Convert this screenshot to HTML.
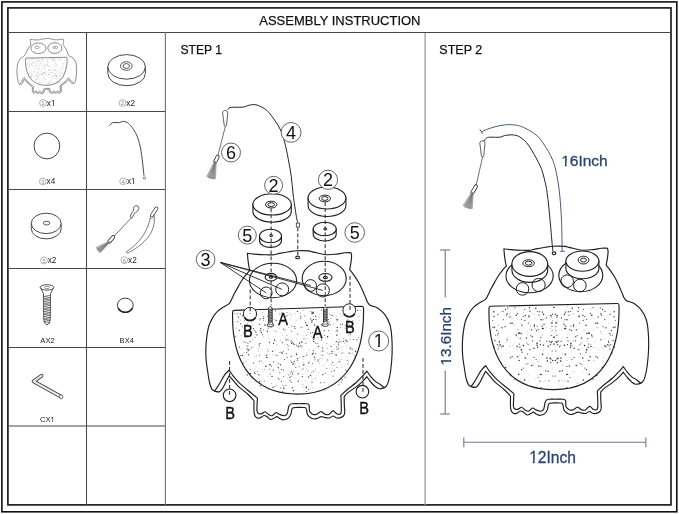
<!DOCTYPE html>
<html><head><meta charset="utf-8">
<style>
html,body{margin:0;padding:0;background:#fff;}
body{width:679px;height:514px;overflow:hidden;position:relative;}
svg{position:absolute;left:0;top:0;will-change:transform;}
text{font-family:"Liberation Sans",sans-serif;}
</style></head><body>
<svg width="679" height="514" viewBox="0 0 679 514">
<rect x="1.9" y="1.9" width="674.9" height="509.9" fill="none" stroke="#111" stroke-width="1.6"/>
<rect x="7.9" y="7.9" width="663.1" height="497" fill="none" stroke="#111" stroke-width="1.6"/>
<g stroke="#484848" stroke-width="1.05" fill="none">
<line x1="8" y1="32.5" x2="671" y2="32.5"/>
<line x1="86.5" y1="32" x2="86.5" y2="505"/>
<line x1="8" y1="111.5" x2="165" y2="111.5"/>
<line x1="8" y1="189.5" x2="165" y2="189.5"/>
<line x1="8" y1="268.5" x2="165" y2="268.5"/>
<line x1="8" y1="347.5" x2="165" y2="347.5"/>
<line x1="8" y1="426" x2="165" y2="426"/>
</g>
<g stroke="#707070" stroke-width="1.1" fill="none">
<line x1="165.4" y1="32" x2="165.4" y2="505"/>
</g>
<g stroke="#9c9c9c" stroke-width="1.3" fill="none">
<line x1="425.1" y1="33" x2="425.1" y2="505"/>

</g>
<text x="259.3" y="24.7" font-size="13.3" textLength="161.2" lengthAdjust="spacingAndGlyphs" fill="#111" stroke="#111" stroke-width="0.25">ASSEMBLY INSTRUCTION</text>
<text x="180.4" y="54.2" font-size="13" textLength="41.6" lengthAdjust="spacingAndGlyphs" fill="#111" stroke="#111" stroke-width="0.25">STEP 1</text>
<text x="439.3" y="54.2" font-size="13" textLength="43" lengthAdjust="spacingAndGlyphs" fill="#111" stroke="#111" stroke-width="0.25">STEP 2</text>
<g transform="translate(-131,-41.7) scale(0.32,0.326)"><path d="M471,386.6 C470.57,386.27 469.23,386.03 468.4,384.6 C467.57,383.17 466.7,380.93 466,378 C465.3,375.07 464.77,370.83 464.2,367 C463.63,363.17 462.87,359.63 462.6,355 C462.33,350.37 462.17,344.7 462.6,339.2 C463.03,333.7 464.03,326.45 465.2,322 C466.37,317.55 468.1,315.07 469.6,312.5 C471.1,309.93 472.47,308.25 474.2,306.6 C475.93,304.95 478.13,303.8 480,302.6 C481.87,301.4 484.1,300.57 485.4,299.4 C486.7,298.23 486.93,297.23 487.8,295.6 C488.67,293.97 489.4,291.93 490.6,289.6 C491.8,287.27 493.58,284.07 495,281.6 C496.42,279.13 497.73,276.85 499.1,274.8 C500.47,272.75 501.98,270.77 503.2,269.3 C504.42,267.83 505.87,266.55 506.4,266 C506.27,265.5 505.92,264.72 505.6,263 C505.28,261.28 504.78,258.05 504.5,255.7 C504.22,253.35 504,250.03 503.9,248.9 C504.97,249.02 507.25,249.37 510.3,249.6 C513.35,249.83 518.85,250.2 522.2,250.3 C525.55,250.4 528.1,250.43 530.4,250.2 C532.7,249.97 533.5,249.4 536,248.9 C538.5,248.4 542.47,247.63 545.4,247.2 C548.33,246.77 550.33,246.43 553.6,246.3 C556.87,246.17 562.27,246.18 565,246.4 C567.73,246.62 567.13,246.97 570,247.6 C572.87,248.23 578.35,249.87 582.2,250.2 C586.05,250.53 589.92,249.92 593.1,249.6 C596.28,249.28 598.92,248.53 601.3,248.3 C603.68,248.07 606.38,248.22 607.4,248.2 C607.52,248.77 608.1,249.9 608.1,251.6 C608.1,253.3 607.73,256.13 607.4,258.4 C607.07,260.67 606.32,264.07 606.1,265.2 C606.67,265.88 608.03,267.25 609.5,269.3 C610.97,271.35 613.32,274.77 614.9,277.5 C616.48,280.23 617.75,282.98 619,285.7 C620.25,288.42 621.53,291.75 622.4,293.8 C623.27,295.85 623.43,296.8 624.2,298 C624.97,299.2 625.42,300.13 627,301 C628.58,301.87 631.33,301.73 633.7,303.2 C636.07,304.67 639.12,307.08 641.2,309.8 C643.28,312.52 645.03,315.85 646.2,319.5 C647.37,323.15 647.8,326.78 648.2,331.7 C648.6,336.62 648.78,343.2 648.6,349 C648.42,354.8 647.72,361.82 647.1,366.5 C646.48,371.18 645.57,374.67 644.9,377.1 C644.23,379.53 643.77,380.05 643.1,381.1 C642.43,382.15 641.27,383.02 640.9,383.4 C640.02,383.53 637.07,384.37 635.6,384.2 C634.13,384.03 633.42,383.43 632.1,382.4 C630.78,381.37 629.17,379.7 627.7,378 C626.23,376.3 624.03,373.17 623.3,372.2 C622.57,373.02 620.67,375.4 618.9,377.1 C617.13,378.8 615.22,380.48 612.7,382.4 C610.18,384.32 605.8,386.95 603.8,388.6 C601.8,390.25 601.22,391.68 600.7,392.3 C600.72,393.58 600.72,397.35 600.8,400 C600.88,402.65 601.35,406.28 601.2,408.2 C601.05,410.12 600.73,410.63 599.9,411.5 C599.07,412.37 597.42,413.1 596.2,413.4 C594.98,413.7 593.7,413.62 592.6,413.3 C591.5,412.98 590.72,411.48 589.6,411.5 C588.48,411.52 587.25,413.13 585.9,413.4 C584.55,413.67 582.85,413.32 581.5,413.1 C580.15,412.88 579.03,412 577.8,412.1 C576.57,412.2 575.32,413.3 574.1,413.7 C572.88,414.1 571.72,414.62 570.5,414.5 C569.28,414.38 567.88,413.75 566.8,413 C565.72,412.25 564.6,411.13 564,410 C563.4,408.87 563.5,407.3 563.2,406.2 C562.9,405.1 562.73,403.93 562.2,403.4 C561.67,402.87 561.2,403.08 560,403 C558.8,402.92 556.68,402.87 555,402.9 C553.32,402.93 551,402.87 549.9,403.2 C548.8,403.53 548.83,403.78 548.4,404.9 C547.97,406.02 547.9,408.45 547.3,409.9 C546.7,411.35 545.97,412.7 544.8,413.6 C543.63,414.5 541.65,415.18 540.3,415.3 C538.95,415.42 537.87,414.83 536.7,414.3 C535.53,413.77 534.28,412.22 533.3,412.1 C532.32,411.98 531.83,413.12 530.8,413.6 C529.77,414.08 528.33,415.25 527.1,415 C525.87,414.75 524.5,412.77 523.4,412.1 C522.3,411.43 521.73,410.75 520.5,411 C519.27,411.25 517.35,413.33 516,413.6 C514.65,413.87 513.3,413.47 512.4,412.6 C511.5,411.73 510.92,411.12 510.6,408.4 C510.28,405.68 510.52,398.32 510.5,396.3 C509.45,395.17 506.73,391.82 504.2,389.5 C501.67,387.18 497.8,384.77 495.3,382.4 C492.8,380.03 490.82,377.15 489.2,375.3 C487.58,373.45 486.2,371.97 485.6,371.3 C485.17,372.12 484.03,374.2 483,376.2 C481.97,378.2 480.58,381.47 479.4,383.3 C478.22,385.13 477.3,386.65 475.9,387.2 C474.5,387.75 471.82,386.7 471,386.6 Z" fill="#fff" stroke="#777" stroke-width="2.6" stroke-linejoin="round"/><path d="M471,386.6 C471.58,385.77 473.38,383.33 474.5,381.6 C475.62,379.87 476.58,378.08 477.7,376.2 C478.82,374.32 479.88,372.07 481.2,370.3 C482.52,368.53 484.87,366.38 485.6,365.6 C486.33,366.63 488.08,369.45 490,371.8 C491.92,374.15 494.3,377.05 497.1,379.7 C499.9,382.35 504,385.38 506.8,387.7 C509.6,390.02 512.72,392.62 513.9,393.6 C513.87,394.23 513.77,395.27 513.7,397.4 C513.63,399.53 513.23,404.43 513.5,406.4 C513.77,408.37 514.5,408.75 515.3,409.2 C516.1,409.65 517.25,409.42 518.3,409.1 C519.35,408.78 520.5,407.17 521.6,407.3 C522.7,407.43 523.73,409.25 524.9,409.9 C526.07,410.55 527.32,411.52 528.6,411.2 C529.88,410.88 531.38,408.22 532.6,408 C533.82,407.78 534.5,409.37 535.9,409.9 C537.3,410.43 539.7,411.33 541,411.2 C542.3,411.07 543.02,410.55 543.7,409.1 C544.38,407.65 544.55,404.08 545.1,402.5 C545.65,400.92 546.25,400.15 547,399.6 C547.75,399.05 548.27,399.27 549.6,399.2 C550.93,399.13 552.67,399.18 555,399.2 C557.33,399.22 561.83,399.03 563.6,399.3 C565.37,399.57 565.23,399.87 565.6,400.8 C565.97,401.73 565.67,403.82 565.8,404.9 C565.93,405.98 565.75,406.45 566.4,407.3 C567.05,408.15 568.53,409.6 569.7,410 C570.87,410.4 572.1,410.18 573.4,409.7 C574.7,409.22 576.15,407.1 577.5,407.1 C578.85,407.1 580.22,409.22 581.5,409.7 C582.78,410.18 583.85,410.55 585.2,410 C586.55,409.45 588.25,406.52 589.6,406.4 C590.95,406.28 592.2,408.73 593.3,409.3 C594.4,409.87 595.47,410.08 596.2,409.8 C596.93,409.52 597.45,409.52 597.7,407.6 C597.95,405.68 597.77,401.07 597.7,398.3 C597.63,395.53 597.37,392.22 597.3,391 C598.38,390 601.23,387.17 603.8,385 C606.37,382.83 610.05,380.35 612.7,378 C615.35,375.65 617.93,372.82 619.7,370.9 C621.47,368.98 622.7,367.23 623.3,366.5 C624.03,367.53 626.23,370.93 627.7,372.7 C629.17,374.47 630.63,375.93 632.1,377.1 C633.57,378.27 635.03,378.65 636.5,379.7 C637.97,380.75 640.17,382.78 640.9,383.4" fill="none" stroke="#777" stroke-width="2.6" stroke-linejoin="round"/><path d="M489,308.0 Q489,306.2 490.8,306.2 L617.2,303.5 Q619,303.5 619,305.3 C620.2,350.5 603,389.6 554,389.6 C505,389.6 487.8,353.2 489,308.0 Z" fill="#fff" stroke="#777" stroke-width="2.6"/><g fill="#666"><circle cx="522.7" cy="362.9" r="1.44" fill-opacity="0.2"/><circle cx="573.8" cy="361.3" r="1.53" fill-opacity="0.4"/><circle cx="584.4" cy="315.2" r="1.37" fill-opacity="0.2"/><circle cx="585.8" cy="306.6" r="1.16" fill-opacity="0.4"/><circle cx="524.9" cy="316.6" r="1.54" fill-opacity="0.3"/><circle cx="596.4" cy="368.0" r="1.57" fill-opacity="0.3"/><circle cx="535.2" cy="324.1" r="1.55" fill-opacity="0.4"/><circle cx="562.3" cy="340.9" r="1.28" fill-opacity="0.3"/><circle cx="572.0" cy="360.4" r="1.27" fill-opacity="0.4"/><circle cx="578.8" cy="351.7" r="1.47" fill-opacity="0.2"/><circle cx="546.2" cy="366.7" r="1.37" fill-opacity="0.3"/><circle cx="515.3" cy="349.0" r="1.23" fill-opacity="0.3"/><circle cx="523.0" cy="328.1" r="1.54" fill-opacity="0.4"/><circle cx="552.8" cy="324.2" r="1.22" fill-opacity="0.2"/><circle cx="580.2" cy="315.3" r="1.32" fill-opacity="0.4"/><circle cx="613.0" cy="337.5" r="1.46" fill-opacity="0.2"/><circle cx="518.2" cy="346.8" r="1.45" fill-opacity="0.3"/><circle cx="572.1" cy="317.7" r="1.31" fill-opacity="0.3"/><circle cx="515.4" cy="377.4" r="1.29" fill-opacity="0.4"/><circle cx="574.4" cy="381.5" r="1.45" fill-opacity="0.2"/><circle cx="583.0" cy="322.2" r="1.41" fill-opacity="0.4"/><circle cx="580.2" cy="307.3" r="1.39" fill-opacity="0.4"/><circle cx="533.4" cy="329.4" r="1.18" fill-opacity="0.4"/><circle cx="561.2" cy="381.5" r="1.18" fill-opacity="0.3"/><circle cx="572.7" cy="351.8" r="1.37" fill-opacity="0.2"/><circle cx="572.9" cy="349.3" r="1.16" fill-opacity="0.3"/><circle cx="504.8" cy="329.9" r="1.23" fill-opacity="0.4"/><circle cx="579.9" cy="384.7" r="1.36" fill-opacity="0.2"/><circle cx="553.6" cy="387.4" r="1.36" fill-opacity="0.3"/><circle cx="518.0" cy="321.8" r="1.50" fill-opacity="0.3"/><circle cx="554.2" cy="382.3" r="1.47" fill-opacity="0.3"/><circle cx="544.3" cy="374.9" r="1.21" fill-opacity="0.3"/><circle cx="565.4" cy="334.6" r="1.22" fill-opacity="0.3"/><circle cx="544.6" cy="359.1" r="1.31" fill-opacity="0.3"/><circle cx="540.7" cy="311.5" r="1.48" fill-opacity="0.4"/><circle cx="608.8" cy="360.2" r="1.25" fill-opacity="0.3"/><circle cx="551.5" cy="351.7" r="1.27" fill-opacity="0.3"/><circle cx="557.6" cy="385.8" r="1.17" fill-opacity="0.2"/><circle cx="517.4" cy="330.1" r="1.29" fill-opacity="0.2"/><circle cx="534.2" cy="312.6" r="1.35" fill-opacity="0.4"/><circle cx="494.7" cy="350.0" r="1.16" fill-opacity="0.2"/><circle cx="531.0" cy="380.8" r="1.37" fill-opacity="0.2"/><circle cx="607.6" cy="362.6" r="1.14" fill-opacity="0.3"/><circle cx="498.1" cy="326.7" r="1.51" fill-opacity="0.2"/><circle cx="582.4" cy="361.3" r="1.57" fill-opacity="0.4"/><circle cx="591.2" cy="369.7" r="1.20" fill-opacity="0.3"/><circle cx="569.7" cy="376.2" r="1.55" fill-opacity="0.2"/><circle cx="568.7" cy="385.1" r="1.48" fill-opacity="0.3"/><circle cx="558.4" cy="329.8" r="1.58" fill-opacity="0.3"/><circle cx="522.9" cy="336.1" r="1.57" fill-opacity="0.2"/><circle cx="583.5" cy="313.2" r="1.46" fill-opacity="0.2"/><circle cx="544.2" cy="357.5" r="1.52" fill-opacity="0.4"/><circle cx="580.1" cy="383.0" r="1.12" fill-opacity="0.2"/><circle cx="550.3" cy="327.0" r="1.49" fill-opacity="0.3"/><circle cx="528.1" cy="349.3" r="1.37" fill-opacity="0.3"/><circle cx="532.2" cy="384.6" r="1.22" fill-opacity="0.3"/><circle cx="588.0" cy="345.6" r="1.23" fill-opacity="0.3"/><circle cx="564.2" cy="386.4" r="1.33" fill-opacity="0.3"/><circle cx="581.8" cy="375.5" r="1.11" fill-opacity="0.2"/><circle cx="551.7" cy="347.1" r="1.16" fill-opacity="0.2"/><circle cx="565.6" cy="330.4" r="1.54" fill-opacity="0.3"/><circle cx="563.3" cy="366.3" r="1.13" fill-opacity="0.4"/><circle cx="585.9" cy="359.8" r="1.31" fill-opacity="0.4"/><circle cx="509.0" cy="308.6" r="1.35" fill-opacity="0.3"/><circle cx="501.2" cy="331.2" r="1.35" fill-opacity="0.4"/><circle cx="547.4" cy="369.3" r="1.27" fill-opacity="0.2"/><circle cx="568.1" cy="349.1" r="1.60" fill-opacity="0.2"/><circle cx="597.1" cy="362.6" r="1.46" fill-opacity="0.4"/><circle cx="525.9" cy="312.0" r="1.46" fill-opacity="0.2"/><circle cx="583.4" cy="355.3" r="1.13" fill-opacity="0.4"/><circle cx="507.4" cy="367.2" r="1.11" fill-opacity="0.3"/><circle cx="602.9" cy="336.8" r="1.51" fill-opacity="0.3"/><circle cx="593.6" cy="348.1" r="1.13" fill-opacity="0.3"/><circle cx="557.5" cy="328.1" r="1.29" fill-opacity="0.2"/><circle cx="607.6" cy="362.8" r="1.29" fill-opacity="0.2"/><circle cx="588.5" cy="384.1" r="1.25" fill-opacity="0.2"/><circle cx="542.4" cy="352.5" r="1.47" fill-opacity="0.2"/><circle cx="598.2" cy="349.7" r="1.32" fill-opacity="0.4"/><circle cx="527.3" cy="321.5" r="1.59" fill-opacity="0.2"/><circle cx="586.5" cy="360.4" r="1.58" fill-opacity="0.4"/><circle cx="539.3" cy="322.3" r="1.18" fill-opacity="0.2"/><circle cx="509.8" cy="319.9" r="1.13" fill-opacity="0.3"/><circle cx="562.5" cy="380.0" r="1.43" fill-opacity="0.4"/><circle cx="542.2" cy="310.9" r="1.34" fill-opacity="0.4"/><circle cx="509.2" cy="308.6" r="1.41" fill-opacity="0.4"/><circle cx="595.6" cy="371.0" r="1.47" fill-opacity="0.2"/><circle cx="580.8" cy="340.7" r="1.31" fill-opacity="0.2"/><circle cx="523.1" cy="373.3" r="1.46" fill-opacity="0.3"/><circle cx="606.9" cy="328.1" r="1.46" fill-opacity="0.2"/><circle cx="598.1" cy="311.3" r="1.12" fill-opacity="0.2"/><circle cx="614.5" cy="325.9" r="1.50" fill-opacity="0.2"/><circle cx="570.2" cy="312.6" r="1.35" fill-opacity="0.4"/><circle cx="502.6" cy="364.6" r="1.39" fill-opacity="0.3"/><circle cx="506.8" cy="345.1" r="1.34" fill-opacity="0.3"/><circle cx="505.2" cy="365.3" r="1.34" fill-opacity="0.4"/><circle cx="595.4" cy="342.5" r="1.31" fill-opacity="0.2"/><circle cx="580.8" cy="358.4" r="1.17" fill-opacity="0.3"/><circle cx="586.7" cy="368.2" r="1.15" fill-opacity="0.4"/><circle cx="509.8" cy="318.6" r="1.31" fill-opacity="0.2"/><circle cx="592.8" cy="355.5" r="1.48" fill-opacity="0.3"/><circle cx="542.3" cy="321.9" r="1.18" fill-opacity="0.3"/><circle cx="593.0" cy="338.2" r="1.30" fill-opacity="0.3"/><circle cx="541.0" cy="310.9" r="1.22" fill-opacity="0.2"/><circle cx="597.4" cy="355.1" r="1.38" fill-opacity="0.3"/><circle cx="546.3" cy="350.1" r="1.48" fill-opacity="0.4"/><circle cx="547.8" cy="316.3" r="1.49" fill-opacity="0.2"/><circle cx="561.2" cy="320.2" r="1.22" fill-opacity="0.3"/><circle cx="494.8" cy="327.5" r="1.31" fill-opacity="0.3"/><circle cx="541.0" cy="357.0" r="1.32" fill-opacity="0.2"/><circle cx="545.1" cy="352.8" r="1.13" fill-opacity="0.3"/><circle cx="517.8" cy="361.0" r="1.20" fill-opacity="0.3"/><circle cx="515.6" cy="307.2" r="1.11" fill-opacity="0.4"/><circle cx="583.1" cy="356.6" r="1.30" fill-opacity="0.4"/><circle cx="565.3" cy="342.5" r="1.57" fill-opacity="0.4"/><circle cx="578.6" cy="305.1" r="1.46" fill-opacity="0.3"/><circle cx="572.1" cy="324.6" r="1.16" fill-opacity="0.3"/><circle cx="580.2" cy="352.2" r="1.20" fill-opacity="0.3"/><circle cx="515.3" cy="366.9" r="1.35" fill-opacity="0.2"/><circle cx="508.2" cy="372.3" r="1.46" fill-opacity="0.2"/><circle cx="512.1" cy="309.7" r="1.18" fill-opacity="0.3"/><circle cx="553.2" cy="355.9" r="1.22" fill-opacity="0.3"/><circle cx="590.5" cy="309.6" r="1.40" fill-opacity="0.3"/><circle cx="557.5" cy="319.4" r="1.38" fill-opacity="0.2"/><circle cx="584.2" cy="336.8" r="1.20" fill-opacity="0.3"/><circle cx="507.6" cy="358.1" r="1.42" fill-opacity="0.2"/><circle cx="564.3" cy="384.6" r="1.45" fill-opacity="0.4"/><circle cx="579.7" cy="347.3" r="1.31" fill-opacity="0.2"/><circle cx="540.9" cy="339.6" r="1.49" fill-opacity="0.3"/><circle cx="547.7" cy="368.6" r="1.15" fill-opacity="0.3"/><circle cx="548.5" cy="365.3" r="1.50" fill-opacity="0.2"/><circle cx="523.3" cy="365.9" r="1.33" fill-opacity="0.2"/><circle cx="561.8" cy="356.1" r="1.56" fill-opacity="0.4"/><circle cx="590.6" cy="353.9" r="1.31" fill-opacity="0.2"/><circle cx="616.9" cy="305.5" r="1.30" fill-opacity="0.2"/><circle cx="546.5" cy="310.1" r="1.55" fill-opacity="0.2"/><circle cx="610.8" cy="311.3" r="1.48" fill-opacity="0.2"/><circle cx="586.0" cy="345.8" r="1.39" fill-opacity="0.4"/><circle cx="581.9" cy="344.1" r="1.46" fill-opacity="0.4"/><circle cx="533.2" cy="367.4" r="1.27" fill-opacity="0.3"/><circle cx="588.3" cy="377.8" r="1.54" fill-opacity="0.4"/><circle cx="516.2" cy="333.3" r="1.16" fill-opacity="0.2"/><circle cx="498.7" cy="354.2" r="1.44" fill-opacity="0.3"/><circle cx="585.8" cy="361.5" r="1.51" fill-opacity="0.3"/><circle cx="514.1" cy="353.7" r="1.29" fill-opacity="0.2"/><circle cx="499.1" cy="342.8" r="1.20" fill-opacity="0.2"/><circle cx="577.8" cy="340.7" r="1.14" fill-opacity="0.4"/><circle cx="528.7" cy="359.2" r="1.40" fill-opacity="0.4"/><circle cx="612.0" cy="305.8" r="1.18" fill-opacity="0.3"/><circle cx="493.9" cy="329.1" r="1.49" fill-opacity="0.3"/><circle cx="577.9" cy="340.3" r="1.28" fill-opacity="0.2"/><circle cx="586.6" cy="370.2" r="1.44" fill-opacity="0.2"/><circle cx="527.9" cy="366.2" r="1.34" fill-opacity="0.2"/><circle cx="496.3" cy="322.9" r="1.28" fill-opacity="0.4"/><circle cx="597.0" cy="376.4" r="1.42" fill-opacity="0.2"/><circle cx="587.3" cy="326.2" r="1.56" fill-opacity="0.4"/><circle cx="584.1" cy="324.8" r="1.15" fill-opacity="0.3"/><circle cx="546.5" cy="329.3" r="1.38" fill-opacity="0.2"/><circle cx="579.1" cy="328.4" r="1.21" fill-opacity="0.3"/><circle cx="502.7" cy="321.8" r="1.27" fill-opacity="0.2"/><circle cx="577.1" cy="387.4" r="1.27" fill-opacity="0.2"/><circle cx="513.7" cy="348.3" r="1.16" fill-opacity="0.4"/><circle cx="531.6" cy="339.4" r="1.44" fill-opacity="0.3"/><circle cx="540.8" cy="335.5" r="1.31" fill-opacity="0.2"/><circle cx="523.0" cy="371.2" r="1.29" fill-opacity="0.4"/><circle cx="497.8" cy="316.5" r="1.52" fill-opacity="0.3"/><circle cx="574.3" cy="365.5" r="1.11" fill-opacity="0.3"/><circle cx="535.2" cy="353.9" r="1.31" fill-opacity="0.4"/><circle cx="539.3" cy="317.5" r="1.43" fill-opacity="0.4"/><circle cx="600.9" cy="312.9" r="1.46" fill-opacity="0.2"/><circle cx="575.9" cy="358.4" r="1.30" fill-opacity="0.4"/><circle cx="556.6" cy="321.7" r="1.38" fill-opacity="0.3"/><circle cx="547.3" cy="341.7" r="1.28" fill-opacity="0.2"/><circle cx="596.1" cy="346.8" r="1.24" fill-opacity="0.2"/><circle cx="537.7" cy="328.7" r="1.27" fill-opacity="0.3"/><circle cx="595.9" cy="307.8" r="1.57" fill-opacity="0.2"/><circle cx="536.5" cy="345.1" r="1.19" fill-opacity="0.3"/><circle cx="549.4" cy="334.2" r="1.31" fill-opacity="0.2"/><circle cx="599.1" cy="304.8" r="1.15" fill-opacity="0.2"/><circle cx="511.3" cy="321.5" r="1.48" fill-opacity="0.2"/><circle cx="614.5" cy="332.5" r="1.37" fill-opacity="0.3"/><circle cx="557.3" cy="314.3" r="1.39" fill-opacity="0.3"/><circle cx="597.1" cy="308.7" r="1.57" fill-opacity="0.2"/><circle cx="605.4" cy="353.0" r="1.23" fill-opacity="0.2"/><circle cx="551.4" cy="355.9" r="1.33" fill-opacity="0.3"/><circle cx="584.1" cy="342.0" r="1.28" fill-opacity="0.2"/><circle cx="567.3" cy="379.1" r="1.36" fill-opacity="0.3"/><circle cx="584.1" cy="377.7" r="1.29" fill-opacity="0.3"/><circle cx="609.0" cy="351.5" r="1.14" fill-opacity="0.2"/><circle cx="596.0" cy="374.4" r="1.37" fill-opacity="0.3"/><circle cx="533.9" cy="356.9" r="1.20" fill-opacity="0.4"/><circle cx="573.4" cy="308.3" r="1.34" fill-opacity="0.4"/><circle cx="604.6" cy="352.8" r="1.10" fill-opacity="0.4"/><circle cx="532.2" cy="379.0" r="1.56" fill-opacity="0.2"/><circle cx="569.3" cy="310.9" r="1.13" fill-opacity="0.4"/><circle cx="520.3" cy="371.5" r="1.20" fill-opacity="0.4"/><circle cx="546.2" cy="315.0" r="1.34" fill-opacity="0.2"/><circle cx="554.8" cy="329.4" r="1.25" fill-opacity="0.4"/><circle cx="594.0" cy="362.7" r="1.58" fill-opacity="0.3"/><circle cx="501.9" cy="337.5" r="1.54" fill-opacity="0.2"/><circle cx="552.2" cy="371.3" r="1.54" fill-opacity="0.4"/><circle cx="512.9" cy="319.8" r="1.12" fill-opacity="0.3"/><circle cx="559.9" cy="306.3" r="1.24" fill-opacity="0.2"/><circle cx="525.1" cy="358.5" r="1.41" fill-opacity="0.3"/><circle cx="518.5" cy="328.3" r="1.21" fill-opacity="0.3"/><circle cx="499.0" cy="319.1" r="1.12" fill-opacity="0.4"/><circle cx="569.4" cy="386.3" r="1.33" fill-opacity="0.3"/><circle cx="494.9" cy="308.9" r="1.44" fill-opacity="0.2"/><circle cx="577.3" cy="382.2" r="1.15" fill-opacity="0.4"/><circle cx="606.2" cy="357.0" r="1.27" fill-opacity="0.3"/><circle cx="610.0" cy="306.2" r="1.39" fill-opacity="0.3"/><circle cx="605.3" cy="329.0" r="1.24" fill-opacity="0.3"/><circle cx="534.4" cy="343.9" r="1.30" fill-opacity="0.2"/><circle cx="520.3" cy="348.5" r="1.31" fill-opacity="0.4"/><circle cx="568.6" cy="307.9" r="1.17" fill-opacity="0.4"/><circle cx="533.1" cy="312.8" r="1.38" fill-opacity="0.4"/><circle cx="581.4" cy="342.7" r="1.27" fill-opacity="0.4"/><circle cx="536.3" cy="321.9" r="1.39" fill-opacity="0.4"/><circle cx="543.5" cy="329.5" r="1.18" fill-opacity="0.4"/><circle cx="565.1" cy="365.1" r="1.26" fill-opacity="0.2"/><circle cx="503.4" cy="313.8" r="1.46" fill-opacity="0.3"/><circle cx="578.8" cy="361.9" r="1.53" fill-opacity="0.3"/><circle cx="509.5" cy="353.7" r="1.45" fill-opacity="0.2"/><circle cx="578.7" cy="349.1" r="1.49" fill-opacity="0.2"/><circle cx="495.0" cy="322.9" r="1.33" fill-opacity="0.4"/><circle cx="583.2" cy="368.9" r="1.24" fill-opacity="0.4"/><circle cx="527.2" cy="361.6" r="1.13" fill-opacity="0.3"/><circle cx="524.4" cy="313.7" r="1.28" fill-opacity="0.3"/><circle cx="573.2" cy="342.8" r="1.26" fill-opacity="0.2"/><circle cx="532.1" cy="363.8" r="1.21" fill-opacity="0.3"/><circle cx="586.9" cy="331.0" r="1.19" fill-opacity="0.4"/><circle cx="533.4" cy="379.5" r="1.12" fill-opacity="0.3"/><circle cx="540.0" cy="336.1" r="1.45" fill-opacity="0.3"/><circle cx="562.6" cy="355.1" r="1.55" fill-opacity="0.3"/><circle cx="501.4" cy="351.4" r="1.35" fill-opacity="0.2"/><circle cx="519.4" cy="307.8" r="1.58" fill-opacity="0.3"/><circle cx="559.5" cy="314.4" r="1.53" fill-opacity="0.2"/><circle cx="533.4" cy="358.0" r="1.12" fill-opacity="0.4"/><circle cx="529.1" cy="332.8" r="1.16" fill-opacity="0.4"/><circle cx="524.2" cy="354.7" r="1.52" fill-opacity="0.4"/><circle cx="561.6" cy="380.5" r="1.21" fill-opacity="0.2"/><circle cx="604.6" cy="366.8" r="1.55" fill-opacity="0.3"/><circle cx="554.3" cy="352.3" r="1.35" fill-opacity="0.3"/><circle cx="522.9" cy="357.1" r="1.28" fill-opacity="0.3"/><circle cx="521.4" cy="362.0" r="1.16" fill-opacity="0.2"/><circle cx="558.1" cy="382.1" r="1.54" fill-opacity="0.2"/><circle cx="526.0" cy="314.1" r="1.19" fill-opacity="0.3"/><circle cx="507.7" cy="362.1" r="1.57" fill-opacity="0.4"/><circle cx="500.8" cy="366.0" r="1.50" fill-opacity="0.3"/><circle cx="615.6" cy="322.6" r="1.38" fill-opacity="0.3"/><circle cx="510.0" cy="308.2" r="1.28" fill-opacity="0.4"/><circle cx="506.0" cy="342.5" r="1.43" fill-opacity="0.2"/><circle cx="521.9" cy="335.9" r="1.34" fill-opacity="0.3"/><circle cx="508.4" cy="359.6" r="1.35" fill-opacity="0.2"/><circle cx="588.4" cy="361.1" r="1.42" fill-opacity="0.4"/><circle cx="602.1" cy="342.8" r="1.44" fill-opacity="0.3"/><circle cx="572.1" cy="335.1" r="1.13" fill-opacity="0.3"/><circle cx="614.1" cy="345.7" r="1.47" fill-opacity="0.4"/><circle cx="491.1" cy="325.7" r="1.34" fill-opacity="0.3"/><circle cx="549.2" cy="329.5" r="1.49" fill-opacity="0.4"/><circle cx="584.2" cy="328.4" r="1.18" fill-opacity="0.4"/><circle cx="607.2" cy="323.5" r="1.54" fill-opacity="0.2"/><circle cx="535.8" cy="384.2" r="1.16" fill-opacity="0.2"/><circle cx="580.2" cy="313.9" r="1.24" fill-opacity="0.4"/><circle cx="598.6" cy="354.8" r="1.25" fill-opacity="0.3"/><circle cx="538.5" cy="365.3" r="1.25" fill-opacity="0.2"/><circle cx="503.7" cy="310.5" r="1.11" fill-opacity="0.4"/><circle cx="505.1" cy="321.8" r="1.36" fill-opacity="0.3"/><circle cx="508.1" cy="325.3" r="1.52" fill-opacity="0.2"/><circle cx="551.1" cy="337.0" r="1.28" fill-opacity="0.3"/><circle cx="524.8" cy="349.7" r="1.12" fill-opacity="0.4"/><circle cx="594.6" cy="307.8" r="1.21" fill-opacity="0.3"/><circle cx="562.4" cy="332.3" r="1.34" fill-opacity="0.3"/><circle cx="557.0" cy="387.8" r="1.46" fill-opacity="0.2"/><circle cx="547.6" cy="351.8" r="1.58" fill-opacity="0.2"/><circle cx="507.7" cy="373.6" r="1.25" fill-opacity="0.4"/><circle cx="558.6" cy="310.7" r="1.13" fill-opacity="0.4"/><circle cx="507.5" cy="326.9" r="1.40" fill-opacity="0.4"/><circle cx="529.3" cy="348.7" r="1.47" fill-opacity="0.4"/><circle cx="537.9" cy="372.6" r="1.41" fill-opacity="0.3"/><circle cx="533.8" cy="315.1" r="1.39" fill-opacity="0.3"/><circle cx="537.9" cy="347.9" r="1.29" fill-opacity="0.4"/><circle cx="501.4" cy="328.7" r="1.49" fill-opacity="0.4"/><circle cx="607.8" cy="362.8" r="1.52" fill-opacity="0.2"/><circle cx="566.8" cy="357.6" r="1.19" fill-opacity="0.2"/><circle cx="524.6" cy="318.0" r="1.47" fill-opacity="0.2"/><circle cx="511.2" cy="370.4" r="1.13" fill-opacity="0.2"/><circle cx="540.5" cy="353.1" r="1.43" fill-opacity="0.3"/><circle cx="538.7" cy="379.7" r="1.58" fill-opacity="0.3"/><circle cx="540.1" cy="356.6" r="1.43" fill-opacity="0.3"/><circle cx="534.5" cy="359.1" r="1.45" fill-opacity="0.2"/><circle cx="499.9" cy="362.7" r="1.31" fill-opacity="0.3"/><circle cx="557.8" cy="315.9" r="1.20" fill-opacity="0.3"/><circle cx="601.9" cy="313.7" r="1.52" fill-opacity="0.3"/><circle cx="584.4" cy="322.9" r="1.39" fill-opacity="0.2"/><circle cx="498.4" cy="356.7" r="1.11" fill-opacity="0.2"/><circle cx="564.7" cy="350.6" r="1.18" fill-opacity="0.4"/><circle cx="599.2" cy="337.1" r="1.34" fill-opacity="0.3"/><circle cx="547.4" cy="378.9" r="1.12" fill-opacity="0.4"/><circle cx="546.2" cy="372.7" r="1.39" fill-opacity="0.2"/><circle cx="498.3" cy="307.7" r="1.57" fill-opacity="0.3"/><circle cx="591.6" cy="377.4" r="1.13" fill-opacity="0.4"/><circle cx="532.5" cy="340.7" r="1.50" fill-opacity="0.3"/><circle cx="548.4" cy="348.3" r="1.35" fill-opacity="0.3"/><circle cx="605.1" cy="336.1" r="1.13" fill-opacity="0.3"/><circle cx="520.2" cy="373.8" r="1.26" fill-opacity="0.3"/><circle cx="595.8" cy="362.5" r="1.19" fill-opacity="0.3"/><circle cx="600.3" cy="354.5" r="1.40" fill-opacity="0.2"/><circle cx="610.9" cy="317.4" r="1.27" fill-opacity="0.2"/><circle cx="549.7" cy="327.0" r="1.26" fill-opacity="0.4"/><circle cx="506.8" cy="349.2" r="1.50" fill-opacity="0.3"/><circle cx="586.0" cy="362.8" r="1.39" fill-opacity="0.4"/><circle cx="570.2" cy="349.4" r="1.51" fill-opacity="0.3"/><circle cx="574.8" cy="326.9" r="1.49" fill-opacity="0.4"/><circle cx="584.3" cy="345.0" r="1.51" fill-opacity="0.2"/><circle cx="525.9" cy="310.1" r="1.53" fill-opacity="0.4"/><circle cx="518.1" cy="342.1" r="1.42" fill-opacity="0.3"/><circle cx="584.3" cy="352.0" r="1.20" fill-opacity="0.4"/><circle cx="501.7" cy="325.6" r="1.58" fill-opacity="0.2"/><circle cx="555.6" cy="361.6" r="1.25" fill-opacity="0.4"/><circle cx="593.9" cy="370.3" r="1.27" fill-opacity="0.4"/><circle cx="545.0" cy="365.4" r="1.19" fill-opacity="0.4"/><circle cx="513.2" cy="323.0" r="1.38" fill-opacity="0.4"/><circle cx="572.9" cy="368.4" r="1.38" fill-opacity="0.3"/><circle cx="567.6" cy="306.6" r="1.18" fill-opacity="0.4"/><circle cx="562.1" cy="386.1" r="1.34" fill-opacity="0.4"/><circle cx="566.9" cy="375.3" r="1.41" fill-opacity="0.2"/><circle cx="541.4" cy="306.6" r="1.28" fill-opacity="0.3"/><circle cx="525.3" cy="371.1" r="1.31" fill-opacity="0.2"/><circle cx="516.1" cy="361.0" r="1.15" fill-opacity="0.2"/><circle cx="509.6" cy="360.6" r="1.33" fill-opacity="0.3"/><circle cx="506.3" cy="366.4" r="1.22" fill-opacity="0.3"/><circle cx="524.7" cy="363.6" r="1.45" fill-opacity="0.4"/><circle cx="557.8" cy="314.9" r="1.13" fill-opacity="0.4"/><circle cx="511.2" cy="317.1" r="1.42" fill-opacity="0.3"/><circle cx="502.9" cy="321.8" r="1.45" fill-opacity="0.2"/><circle cx="510.9" cy="328.8" r="1.24" fill-opacity="0.4"/><circle cx="575.6" cy="307.6" r="1.34" fill-opacity="0.3"/><circle cx="550.3" cy="335.2" r="1.40" fill-opacity="0.4"/><circle cx="580.8" cy="386.8" r="1.31" fill-opacity="0.2"/><circle cx="496.8" cy="352.3" r="1.32" fill-opacity="0.3"/><circle cx="612.3" cy="338.4" r="1.17" fill-opacity="0.2"/><circle cx="580.0" cy="318.8" r="1.46" fill-opacity="0.2"/><circle cx="530.2" cy="331.4" r="1.34" fill-opacity="0.4"/><circle cx="551.2" cy="351.4" r="1.21" fill-opacity="0.2"/><circle cx="496.0" cy="341.8" r="1.13" fill-opacity="0.3"/><circle cx="550.4" cy="341.8" r="1.57" fill-opacity="0.2"/><circle cx="590.1" cy="315.0" r="1.58" fill-opacity="0.2"/><circle cx="589.1" cy="333.3" r="1.47" fill-opacity="0.3"/><circle cx="532.6" cy="337.9" r="1.31" fill-opacity="0.2"/><circle cx="548.0" cy="329.1" r="1.31" fill-opacity="0.2"/><circle cx="546.7" cy="351.1" r="1.42" fill-opacity="0.4"/><circle cx="580.5" cy="334.4" r="1.50" fill-opacity="0.4"/><circle cx="546.5" cy="351.1" r="1.18" fill-opacity="0.4"/><circle cx="578.0" cy="310.8" r="1.22" fill-opacity="0.3"/><circle cx="527.9" cy="353.9" r="1.53" fill-opacity="0.3"/><circle cx="558.6" cy="324.4" r="1.44" fill-opacity="0.3"/><circle cx="563.4" cy="342.7" r="1.53" fill-opacity="0.3"/><circle cx="538.9" cy="315.0" r="1.28" fill-opacity="0.3"/><circle cx="595.8" cy="313.6" r="1.39" fill-opacity="0.3"/><circle cx="573.0" cy="310.6" r="1.20" fill-opacity="0.3"/><circle cx="576.6" cy="312.9" r="1.45" fill-opacity="0.4"/><circle cx="524.2" cy="369.3" r="1.34" fill-opacity="0.3"/><circle cx="560.6" cy="355.7" r="1.24" fill-opacity="0.2"/><circle cx="589.7" cy="375.3" r="1.21" fill-opacity="0.4"/><circle cx="529.2" cy="326.0" r="1.10" fill-opacity="0.3"/><circle cx="515.5" cy="361.3" r="1.46" fill-opacity="0.3"/><circle cx="509.2" cy="357.5" r="1.59" fill-opacity="0.2"/><circle cx="543.3" cy="333.6" r="1.32" fill-opacity="0.2"/><circle cx="538.4" cy="385.1" r="1.25" fill-opacity="0.3"/><circle cx="595.7" cy="379.3" r="1.49" fill-opacity="0.4"/><circle cx="509.5" cy="373.7" r="1.47" fill-opacity="0.2"/><circle cx="584.7" cy="323.3" r="1.44" fill-opacity="0.2"/><circle cx="603.0" cy="307.4" r="1.49" fill-opacity="0.2"/><circle cx="597.3" cy="371.9" r="1.43" fill-opacity="0.3"/><circle cx="527.4" cy="351.7" r="1.37" fill-opacity="0.3"/><circle cx="597.4" cy="371.2" r="1.37" fill-opacity="0.2"/><circle cx="495.7" cy="342.7" r="1.21" fill-opacity="0.3"/><circle cx="543.6" cy="379.9" r="1.31" fill-opacity="0.3"/><circle cx="498.0" cy="358.9" r="1.54" fill-opacity="0.2"/><circle cx="550.7" cy="349.6" r="1.58" fill-opacity="0.2"/><circle cx="498.0" cy="334.8" r="1.31" fill-opacity="0.3"/><circle cx="502.6" cy="363.7" r="1.25" fill-opacity="0.4"/><circle cx="520.0" cy="371.1" r="1.34" fill-opacity="0.2"/><circle cx="598.1" cy="334.8" r="1.29" fill-opacity="0.2"/><circle cx="577.1" cy="309.4" r="1.51" fill-opacity="0.2"/><circle cx="608.4" cy="342.3" r="1.23" fill-opacity="0.3"/><circle cx="544.8" cy="334.7" r="1.45" fill-opacity="0.2"/><circle cx="587.3" cy="384.5" r="1.33" fill-opacity="0.4"/><circle cx="559.6" cy="332.5" r="1.47" fill-opacity="0.3"/><circle cx="530.6" cy="307.3" r="1.44" fill-opacity="0.2"/><circle cx="589.4" cy="378.8" r="1.50" fill-opacity="0.4"/><circle cx="605.9" cy="355.0" r="1.10" fill-opacity="0.3"/><circle cx="545.9" cy="315.8" r="1.15" fill-opacity="0.3"/><circle cx="606.9" cy="332.5" r="1.51" fill-opacity="0.4"/><circle cx="563.8" cy="331.4" r="1.52" fill-opacity="0.3"/><circle cx="609.9" cy="349.1" r="1.54" fill-opacity="0.4"/><circle cx="560.5" cy="357.9" r="1.29" fill-opacity="0.4"/><circle cx="505.1" cy="358.5" r="1.19" fill-opacity="0.4"/><circle cx="528.6" cy="367.6" r="1.30" fill-opacity="0.4"/><circle cx="497.1" cy="358.9" r="1.48" fill-opacity="0.2"/><circle cx="541.9" cy="352.8" r="1.55" fill-opacity="0.2"/><circle cx="530.9" cy="329.5" r="1.51" fill-opacity="0.2"/><circle cx="593.5" cy="317.1" r="1.31" fill-opacity="0.2"/><circle cx="615.0" cy="333.5" r="1.43" fill-opacity="0.2"/><circle cx="540.1" cy="355.3" r="1.58" fill-opacity="0.2"/><circle cx="603.4" cy="341.6" r="1.16" fill-opacity="0.4"/><circle cx="529.6" cy="362.6" r="1.21" fill-opacity="0.3"/><circle cx="527.7" cy="345.1" r="1.38" fill-opacity="0.2"/><circle cx="558.5" cy="324.9" r="1.48" fill-opacity="0.4"/><circle cx="517.4" cy="315.7" r="1.37" fill-opacity="0.2"/><circle cx="563.0" cy="345.1" r="1.40" fill-opacity="0.2"/><circle cx="571.9" cy="367.7" r="1.44" fill-opacity="0.3"/><circle cx="571.0" cy="349.8" r="1.37" fill-opacity="0.4"/><circle cx="569.1" cy="341.7" r="1.44" fill-opacity="0.3"/><circle cx="575.1" cy="382.1" r="1.38" fill-opacity="0.4"/><circle cx="565.6" cy="380.4" r="1.30" fill-opacity="0.4"/><circle cx="562.4" cy="343.6" r="1.51" fill-opacity="0.4"/><circle cx="575.4" cy="344.4" r="1.48" fill-opacity="0.2"/><circle cx="610.9" cy="322.9" r="1.36" fill-opacity="0.2"/><circle cx="606.5" cy="322.1" r="1.41" fill-opacity="0.3"/></g><ellipse cx="529.6" cy="276" rx="23.6" ry="16.2" fill="#fff" stroke="#777" stroke-width="2.6" /><ellipse cx="580.8" cy="275.3" rx="22.0" ry="16.4" fill="#fff" stroke="#777" stroke-width="2.6" /><ellipse cx="525.3" cy="273" rx="6.2" ry="4" fill="#fff" stroke="#888" stroke-width="2.4" /><ellipse cx="578.6" cy="273.3" rx="3.6" ry="3.6" fill="#fff" stroke="#888" stroke-width="2.4" /><ellipse cx="586" cy="273.3" rx="3.6" ry="3.6" fill="#fff" stroke="#888" stroke-width="2.4" /></g><circle cx="43" cy="103.0" r="3.4" fill="none" stroke="#999" stroke-width="0.75"/><text x="43" y="105.30000000000001" font-size="6" text-anchor="middle" fill="#888">1</text><text x="46.8" y="105.9" font-size="8.2" fill="#222">x1</text><rect x="51.10" y="104.46" width="1.75" height="2.24" fill="#fff"/><rect x="53.75" y="104.46" width="1.67" height="2.24" fill="#fff"/><path d="M107.8,66.9 L107.8,73.4 A18.8,12.3 0 0 0 145.4,73.4 L145.4,66.9 Z" fill="#fff" stroke="#333" stroke-width="0.9"/><ellipse cx="126.6" cy="66.9" rx="18.8" ry="12.3" fill="#fff" stroke="#333" stroke-width="0.9" /><ellipse cx="126.3" cy="66" rx="5.8" ry="4.3" fill="#fff" stroke="#333" stroke-width="0.81" /><ellipse cx="126.3" cy="66" rx="3.2" ry="2.4" fill="#fff" stroke="#333" stroke-width="0.81" /><circle cx="122.5" cy="103.0" r="3.4" fill="none" stroke="#999" stroke-width="0.75"/><text x="122.5" y="105.30000000000001" font-size="6" text-anchor="middle" fill="#888">2</text><text x="126.3" y="105.9" font-size="8.2" fill="#222">x2</text><circle cx="46.9" cy="146" r="12.9" fill="none" stroke="#333" stroke-width="0.9"/><circle cx="42.8" cy="181.5" r="3.4" fill="none" stroke="#999" stroke-width="0.75"/><text x="42.8" y="183.8" font-size="6" text-anchor="middle" fill="#888">3</text><text x="46.599999999999994" y="184.4" font-size="8.2" fill="#222">x4</text><path d="M109.4,125.6 C109.87,125.13 111.1,123.3 112.2,122.8 C113.3,122.3 114.75,122.63 116,122.6 C117.25,122.57 118.57,122.8 119.7,122.6 C120.83,122.4 121.53,121.4 122.8,121.4 C124.07,121.4 125.78,121.63 127.3,122.6 C128.82,123.57 130.37,125.17 131.9,127.2 C133.43,129.23 135.1,131.52 136.5,134.8 C137.9,138.08 139.3,142.35 140.3,146.9 C141.3,151.45 141.88,157.28 142.5,162.1 C143.12,166.92 143.75,173.52 144,175.8" fill="none" stroke="#333" stroke-width="0.9"/><circle cx="144.4" cy="178" r="1.2" fill="#fff" stroke="#555" stroke-width="0.7"/><circle cx="123.1" cy="181.29999999999998" r="3.4" fill="none" stroke="#999" stroke-width="0.75"/><text x="123.1" y="183.6" font-size="6" text-anchor="middle" fill="#888">4</text><text x="126.89999999999999" y="184.2" font-size="8.2" fill="#222">x1</text><rect x="131.20" y="182.76" width="1.75" height="2.24" fill="#fff"/><rect x="133.85" y="182.76" width="1.67" height="2.24" fill="#fff"/><path d="M31.300000000000004,223.4 L31.300000000000004,228.70000000000002 A14.9,10.2 0 0 0 61.1,228.70000000000002 L61.1,223.4 Z" fill="#fff" stroke="#333" stroke-width="0.9"/><ellipse cx="46.2" cy="223.4" rx="14.9" ry="10.2" fill="#fff" stroke="#333" stroke-width="0.9" /><ellipse cx="46.6" cy="223.1" rx="3.2" ry="1.9" fill="#fff" stroke="#333" stroke-width="0.81" /><circle cx="43.9" cy="260.5" r="3.4" fill="none" stroke="#999" stroke-width="0.75"/><text x="43.9" y="262.79999999999995" font-size="6" text-anchor="middle" fill="#888">5</text><text x="47.699999999999996" y="263.4" font-size="8.2" fill="#222">x2</text><path d="M133.70000000000002,208.4 C133.5,204.8 139.10000000000002,204.8 138.9,208.4 C138.5,212.4 133.0,212.6 132.79999999999998,216.6 C132.6,218.2 130.6,218.2 130.4,216.6 C130.2,212.6 134.10000000000002,212.4 133.70000000000002,208.4 Z" fill="#fff" stroke="#333" stroke-width="0.8"/><line x1="131.6" y1="217.6" x2="113.1" y2="237.2" stroke="#333" stroke-width="0.7"/><line x1="113.1" y1="237.2" x2="109.3" y2="241.6" stroke="#333" stroke-width="4" stroke-linecap="round"/><line x1="113.1" y1="237.2" x2="109.3" y2="241.6" stroke="#fff" stroke-width="2.3" stroke-linecap="round"/><path d="M108.3,241.6 L96.1,247.4 Q98.35,252.0 100.6,252.2 L110.3,242.1 Z" fill="#b4b4b4" stroke="#888" stroke-width="0.5"/><path d="M109.3,241.9 L96.8,249.7 M109.3,241.9 L97.6,250.5 M109.3,241.9 L98.3,251.3 M109.3,241.9 L99.1,252.1 M109.3,241.9 L99.8,252.9" stroke="#666" stroke-width="0.5" fill="none"/><path d="M126.4,251.6 C131,249 140,241.8 145.2,232 C148.8,225 150.2,220 150.4,216.6 L153.6,213.8 C155.2,218 154.4,226 151.4,232 C147,240.6 138,247.8 128.2,252.8 C127,253.4 125.8,252.6 126.4,251.6 Z" fill="#fff" stroke="#444" stroke-width="0.7"/><line x1="152" y1="215.2" x2="156.4" y2="208.4" stroke="#444" stroke-width="3.8" stroke-linecap="round"/><line x1="152" y1="215.2" x2="156.4" y2="208.4" stroke="#fff" stroke-width="2.3" stroke-linecap="round"/><path d="M149.4,218.4 Q152,219.2 154.4,217.2" fill="none" stroke="#666" stroke-width="0.5"/><circle cx="124.3" cy="260.20000000000005" r="3.4" fill="none" stroke="#999" stroke-width="0.75"/><text x="124.3" y="262.5" font-size="6" text-anchor="middle" fill="#888">6</text><text x="128.1" y="263.1" font-size="8.2" fill="#222">x2</text><path d="M40.4,287.6 L43.5,293.6 L43.7,318 Q44.2,324.6 47,324.6 Q49.8,324.6 50.3,318 L50.5,293.6 L53.6,287.6 Z" fill="#fff" stroke="#333" stroke-width="0.85" stroke-linejoin="round"/><ellipse cx="47" cy="287.4" rx="6.8" ry="2.7" fill="#fff" stroke="#333" stroke-width="0.85"/><ellipse cx="47" cy="287.5" rx="2.6" ry="1.1" fill="none" stroke="#555" stroke-width="0.6"/><path d="M43.8,296.5 L50.2,295.2 M43.8,296.5 L50.2,297.7 M43.8,299.0 L50.2,297.7 M43.8,299.0 L50.2,300.2 M43.8,301.5 L50.2,300.2 M43.8,301.5 L50.2,302.7 M43.8,304.0 L50.2,302.7 M43.8,304.0 L50.2,305.2 M43.8,306.5 L50.2,305.2 M43.8,306.5 L50.2,307.7 M43.8,309.0 L50.2,307.7 M43.8,309.0 L50.2,310.2 M43.8,311.5 L50.2,310.2 M43.8,311.5 L50.2,312.7 M43.8,314.0 L50.2,312.7 M43.8,314.0 L50.2,315.2 M43.8,316.5 L50.2,315.2 M43.8,316.5 L50.2,317.7 M43.8,319.0 L50.2,317.7 M43.8,319.0 L50.2,320.2 M43.8,321.5 L50.2,320.2 M43.8,321.5 L50.2,322.7" stroke="#444" stroke-width="0.65" fill="none"/><text x="47.5" y="343.1" font-size="7.6" text-anchor="middle" fill="#222">AX2</text><ellipse cx="125.3" cy="305.3" rx="7.9" ry="7.2" fill="#fff" stroke="#222" stroke-width="0.9"/><path d="M118.2,308.2 A7.9,7.2 0 0 0 132.4,308.2" fill="none" stroke="#222" stroke-width="1.6"/><text x="126.8" y="343.4" font-size="7.6" text-anchor="middle" fill="#222">BX4</text><path d="M41.6,375.8 L33.6,381.4 L61,396.6" fill="none" stroke="#3a3a3a" stroke-width="3.8" stroke-linejoin="round" stroke-linecap="round"/><path d="M41.6,375.8 L33.6,381.4 L61,396.6" fill="none" stroke="#fff" stroke-width="2.0" stroke-linejoin="round" stroke-linecap="round"/><path d="M41.2,376.4 L34.4,381.2 L60.6,395.8" fill="none" stroke="#999" stroke-width="0.45" stroke-linejoin="round"/><ellipse cx="61.2" cy="396.8" rx="1.7" ry="1.9" fill="#fff" stroke="#444" stroke-width="0.7"/><text x="47.3" y="421.7" font-size="7.6" text-anchor="middle" fill="#222">CX1</text><rect x="50.64" y="420.36" width="1.62" height="2.14" fill="#fff"/><rect x="53.11" y="420.36" width="1.55" height="2.14" fill="#fff"/>
<g transform="translate(-256.5,4.5)"><path d="M471,386.6 C470.57,386.27 469.23,386.03 468.4,384.6 C467.57,383.17 466.7,380.93 466,378 C465.3,375.07 464.77,370.83 464.2,367 C463.63,363.17 462.87,359.63 462.6,355 C462.33,350.37 462.17,344.7 462.6,339.2 C463.03,333.7 464.03,326.45 465.2,322 C466.37,317.55 468.1,315.07 469.6,312.5 C471.1,309.93 472.47,308.25 474.2,306.6 C475.93,304.95 478.13,303.8 480,302.6 C481.87,301.4 484.1,300.57 485.4,299.4 C486.7,298.23 486.93,297.23 487.8,295.6 C488.67,293.97 489.4,291.93 490.6,289.6 C491.8,287.27 493.58,284.07 495,281.6 C496.42,279.13 497.73,276.85 499.1,274.8 C500.47,272.75 501.98,270.77 503.2,269.3 C504.42,267.83 505.87,266.55 506.4,266 C506.27,265.5 505.92,264.72 505.6,263 C505.28,261.28 504.78,258.05 504.5,255.7 C504.22,253.35 504,250.03 503.9,248.9 C504.97,249.02 507.25,249.37 510.3,249.6 C513.35,249.83 518.85,250.2 522.2,250.3 C525.55,250.4 528.1,250.43 530.4,250.2 C532.7,249.97 533.5,249.4 536,248.9 C538.5,248.4 542.47,247.63 545.4,247.2 C548.33,246.77 550.33,246.43 553.6,246.3 C556.87,246.17 562.27,246.18 565,246.4 C567.73,246.62 567.13,246.97 570,247.6 C572.87,248.23 578.35,249.87 582.2,250.2 C586.05,250.53 589.92,249.92 593.1,249.6 C596.28,249.28 598.92,248.53 601.3,248.3 C603.68,248.07 606.38,248.22 607.4,248.2 C607.52,248.77 608.1,249.9 608.1,251.6 C608.1,253.3 607.73,256.13 607.4,258.4 C607.07,260.67 606.32,264.07 606.1,265.2 C606.67,265.88 608.03,267.25 609.5,269.3 C610.97,271.35 613.32,274.77 614.9,277.5 C616.48,280.23 617.75,282.98 619,285.7 C620.25,288.42 621.53,291.75 622.4,293.8 C623.27,295.85 623.43,296.8 624.2,298 C624.97,299.2 625.42,300.13 627,301 C628.58,301.87 631.33,301.73 633.7,303.2 C636.07,304.67 639.12,307.08 641.2,309.8 C643.28,312.52 645.03,315.85 646.2,319.5 C647.37,323.15 647.8,326.78 648.2,331.7 C648.6,336.62 648.78,343.2 648.6,349 C648.42,354.8 647.72,361.82 647.1,366.5 C646.48,371.18 645.57,374.67 644.9,377.1 C644.23,379.53 643.77,380.05 643.1,381.1 C642.43,382.15 641.27,383.02 640.9,383.4 C640.02,383.53 637.07,384.37 635.6,384.2 C634.13,384.03 633.42,383.43 632.1,382.4 C630.78,381.37 629.17,379.7 627.7,378 C626.23,376.3 624.03,373.17 623.3,372.2 C622.57,373.02 620.67,375.4 618.9,377.1 C617.13,378.8 615.22,380.48 612.7,382.4 C610.18,384.32 605.8,386.95 603.8,388.6 C601.8,390.25 601.22,391.68 600.7,392.3 C600.72,393.58 600.72,397.35 600.8,400 C600.88,402.65 601.35,406.28 601.2,408.2 C601.05,410.12 600.73,410.63 599.9,411.5 C599.07,412.37 597.42,413.1 596.2,413.4 C594.98,413.7 593.7,413.62 592.6,413.3 C591.5,412.98 590.72,411.48 589.6,411.5 C588.48,411.52 587.25,413.13 585.9,413.4 C584.55,413.67 582.85,413.32 581.5,413.1 C580.15,412.88 579.03,412 577.8,412.1 C576.57,412.2 575.32,413.3 574.1,413.7 C572.88,414.1 571.72,414.62 570.5,414.5 C569.28,414.38 567.88,413.75 566.8,413 C565.72,412.25 564.6,411.13 564,410 C563.4,408.87 563.5,407.3 563.2,406.2 C562.9,405.1 562.73,403.93 562.2,403.4 C561.67,402.87 561.2,403.08 560,403 C558.8,402.92 556.68,402.87 555,402.9 C553.32,402.93 551,402.87 549.9,403.2 C548.8,403.53 548.83,403.78 548.4,404.9 C547.97,406.02 547.9,408.45 547.3,409.9 C546.7,411.35 545.97,412.7 544.8,413.6 C543.63,414.5 541.65,415.18 540.3,415.3 C538.95,415.42 537.87,414.83 536.7,414.3 C535.53,413.77 534.28,412.22 533.3,412.1 C532.32,411.98 531.83,413.12 530.8,413.6 C529.77,414.08 528.33,415.25 527.1,415 C525.87,414.75 524.5,412.77 523.4,412.1 C522.3,411.43 521.73,410.75 520.5,411 C519.27,411.25 517.35,413.33 516,413.6 C514.65,413.87 513.3,413.47 512.4,412.6 C511.5,411.73 510.92,411.12 510.6,408.4 C510.28,405.68 510.52,398.32 510.5,396.3 C509.45,395.17 506.73,391.82 504.2,389.5 C501.67,387.18 497.8,384.77 495.3,382.4 C492.8,380.03 490.82,377.15 489.2,375.3 C487.58,373.45 486.2,371.97 485.6,371.3 C485.17,372.12 484.03,374.2 483,376.2 C481.97,378.2 480.58,381.47 479.4,383.3 C478.22,385.13 477.3,386.65 475.9,387.2 C474.5,387.75 471.82,386.7 471,386.6 Z" fill="#fff" stroke="#1e1e1e" stroke-width="1.15" stroke-linejoin="round"/><path d="M471,386.6 C471.58,385.77 473.38,383.33 474.5,381.6 C475.62,379.87 476.58,378.08 477.7,376.2 C478.82,374.32 479.88,372.07 481.2,370.3 C482.52,368.53 484.87,366.38 485.6,365.6 C486.33,366.63 488.08,369.45 490,371.8 C491.92,374.15 494.3,377.05 497.1,379.7 C499.9,382.35 504,385.38 506.8,387.7 C509.6,390.02 512.72,392.62 513.9,393.6 C513.87,394.23 513.77,395.27 513.7,397.4 C513.63,399.53 513.23,404.43 513.5,406.4 C513.77,408.37 514.5,408.75 515.3,409.2 C516.1,409.65 517.25,409.42 518.3,409.1 C519.35,408.78 520.5,407.17 521.6,407.3 C522.7,407.43 523.73,409.25 524.9,409.9 C526.07,410.55 527.32,411.52 528.6,411.2 C529.88,410.88 531.38,408.22 532.6,408 C533.82,407.78 534.5,409.37 535.9,409.9 C537.3,410.43 539.7,411.33 541,411.2 C542.3,411.07 543.02,410.55 543.7,409.1 C544.38,407.65 544.55,404.08 545.1,402.5 C545.65,400.92 546.25,400.15 547,399.6 C547.75,399.05 548.27,399.27 549.6,399.2 C550.93,399.13 552.67,399.18 555,399.2 C557.33,399.22 561.83,399.03 563.6,399.3 C565.37,399.57 565.23,399.87 565.6,400.8 C565.97,401.73 565.67,403.82 565.8,404.9 C565.93,405.98 565.75,406.45 566.4,407.3 C567.05,408.15 568.53,409.6 569.7,410 C570.87,410.4 572.1,410.18 573.4,409.7 C574.7,409.22 576.15,407.1 577.5,407.1 C578.85,407.1 580.22,409.22 581.5,409.7 C582.78,410.18 583.85,410.55 585.2,410 C586.55,409.45 588.25,406.52 589.6,406.4 C590.95,406.28 592.2,408.73 593.3,409.3 C594.4,409.87 595.47,410.08 596.2,409.8 C596.93,409.52 597.45,409.52 597.7,407.6 C597.95,405.68 597.77,401.07 597.7,398.3 C597.63,395.53 597.37,392.22 597.3,391 C598.38,390 601.23,387.17 603.8,385 C606.37,382.83 610.05,380.35 612.7,378 C615.35,375.65 617.93,372.82 619.7,370.9 C621.47,368.98 622.7,367.23 623.3,366.5 C624.03,367.53 626.23,370.93 627.7,372.7 C629.17,374.47 630.63,375.93 632.1,377.1 C633.57,378.27 635.03,378.65 636.5,379.7 C637.97,380.75 640.17,382.78 640.9,383.4" fill="none" stroke="#1e1e1e" stroke-width="1.15" stroke-linejoin="round"/><path d="M489.1,307.7 Q489.1,305.9 490.90000000000003,305.9 L618.2,301.7 Q620,301.7 620,303.5 C621.2,348.7 604,389.6 554,389.6 C505.1,389.6 487.90000000000003,352.9 489.1,307.7 Z" fill="#fff" stroke="#1e1e1e" stroke-width="1.15"/><g fill="#222"><circle cx="547.8" cy="352.1" r="0.68" fill-opacity="0.8"/><circle cx="547.7" cy="377.5" r="0.50" fill-opacity="1.0"/><circle cx="550.8" cy="356.8" r="0.50" fill-opacity="0.8"/><circle cx="528.4" cy="311.8" r="0.65" fill-opacity="1.0"/><circle cx="571.5" cy="355.2" r="0.55" fill-opacity="0.8"/><circle cx="574.0" cy="356.9" r="0.49" fill-opacity="0.6"/><circle cx="597.1" cy="309.4" r="0.46" fill-opacity="0.6"/><circle cx="567.0" cy="370.9" r="0.53" fill-opacity="1.0"/><circle cx="598.5" cy="348.6" r="0.61" fill-opacity="0.8"/><circle cx="574.1" cy="339.0" r="0.59" fill-opacity="0.6"/><circle cx="581.0" cy="331.1" r="0.51" fill-opacity="0.8"/><circle cx="503.0" cy="313.3" r="0.52" fill-opacity="0.6"/><circle cx="607.3" cy="344.4" r="0.70" fill-opacity="0.8"/><circle cx="543.6" cy="352.7" r="0.50" fill-opacity="1.0"/><circle cx="524.1" cy="311.5" r="0.53" fill-opacity="0.8"/><circle cx="587.5" cy="314.1" r="0.51" fill-opacity="0.6"/><circle cx="552.3" cy="362.7" r="0.50" fill-opacity="1.0"/><circle cx="513.8" cy="366.9" r="0.48" fill-opacity="1.0"/><circle cx="538.9" cy="338.0" r="0.70" fill-opacity="0.6"/><circle cx="593.4" cy="330.2" r="0.67" fill-opacity="0.6"/><circle cx="567.3" cy="353.6" r="0.46" fill-opacity="0.6"/><circle cx="516.7" cy="326.2" r="0.64" fill-opacity="0.8"/><circle cx="596.9" cy="337.2" r="0.47" fill-opacity="0.6"/><circle cx="564.8" cy="324.9" r="0.60" fill-opacity="0.8"/><circle cx="569.9" cy="314.9" r="0.60" fill-opacity="1.0"/><circle cx="506.6" cy="337.2" r="0.61" fill-opacity="0.8"/><circle cx="521.4" cy="320.3" r="0.63" fill-opacity="1.0"/><circle cx="603.7" cy="355.9" r="0.56" fill-opacity="0.6"/><circle cx="503.2" cy="348.1" r="0.51" fill-opacity="1.0"/><circle cx="580.6" cy="326.1" r="0.66" fill-opacity="1.0"/><circle cx="552.8" cy="348.7" r="0.68" fill-opacity="0.6"/><circle cx="505.4" cy="345.2" r="0.61" fill-opacity="1.0"/><circle cx="568.9" cy="328.1" r="0.68" fill-opacity="0.6"/><circle cx="586.4" cy="309.9" r="0.55" fill-opacity="0.6"/><circle cx="496.9" cy="319.2" r="0.54" fill-opacity="1.0"/><circle cx="615.5" cy="311.9" r="0.48" fill-opacity="0.8"/><circle cx="578.9" cy="354.3" r="0.49" fill-opacity="0.6"/><circle cx="609.1" cy="344.8" r="0.54" fill-opacity="0.8"/><circle cx="614.2" cy="305.8" r="0.61" fill-opacity="0.8"/><circle cx="497.7" cy="330.8" r="0.48" fill-opacity="0.6"/><circle cx="498.8" cy="351.0" r="0.63" fill-opacity="1.0"/><circle cx="584.8" cy="315.1" r="0.69" fill-opacity="0.8"/><circle cx="534.7" cy="362.9" r="0.68" fill-opacity="0.8"/><circle cx="611.8" cy="306.6" r="0.57" fill-opacity="0.6"/><circle cx="570.2" cy="336.9" r="0.60" fill-opacity="1.0"/><circle cx="498.4" cy="311.8" r="0.48" fill-opacity="0.8"/><circle cx="603.4" cy="366.6" r="0.55" fill-opacity="1.0"/><circle cx="579.2" cy="343.4" r="0.57" fill-opacity="1.0"/><circle cx="551.5" cy="323.8" r="0.62" fill-opacity="0.8"/><circle cx="590.4" cy="360.8" r="0.57" fill-opacity="0.6"/><circle cx="536.8" cy="316.3" r="0.60" fill-opacity="1.0"/><circle cx="574.8" cy="342.0" r="0.67" fill-opacity="0.8"/><circle cx="541.6" cy="325.6" r="0.61" fill-opacity="0.6"/><circle cx="603.4" cy="337.1" r="0.60" fill-opacity="0.8"/><circle cx="516.3" cy="315.6" r="0.54" fill-opacity="0.6"/><circle cx="581.5" cy="385.7" r="0.52" fill-opacity="0.6"/><circle cx="503.7" cy="344.5" r="0.68" fill-opacity="0.8"/><circle cx="538.7" cy="348.7" r="0.62" fill-opacity="1.0"/><circle cx="547.8" cy="310.4" r="0.46" fill-opacity="1.0"/><circle cx="563.2" cy="330.6" r="0.65" fill-opacity="0.6"/><circle cx="572.3" cy="338.8" r="0.50" fill-opacity="0.8"/><circle cx="519.9" cy="316.1" r="0.46" fill-opacity="1.0"/><circle cx="504.0" cy="313.4" r="0.58" fill-opacity="1.0"/><circle cx="578.0" cy="321.1" r="0.57" fill-opacity="0.6"/><circle cx="581.8" cy="368.9" r="0.58" fill-opacity="0.6"/><circle cx="512.3" cy="327.4" r="0.54" fill-opacity="1.0"/><circle cx="612.1" cy="347.0" r="0.70" fill-opacity="0.6"/><circle cx="540.2" cy="372.1" r="0.68" fill-opacity="0.6"/><circle cx="542.4" cy="380.8" r="0.55" fill-opacity="0.8"/><circle cx="548.0" cy="357.8" r="0.68" fill-opacity="0.8"/><circle cx="560.5" cy="360.1" r="0.58" fill-opacity="0.8"/><circle cx="549.3" cy="360.0" r="0.50" fill-opacity="1.0"/><circle cx="601.6" cy="372.7" r="0.68" fill-opacity="0.6"/><circle cx="516.7" cy="381.4" r="0.70" fill-opacity="0.8"/><circle cx="558.8" cy="372.0" r="0.53" fill-opacity="1.0"/><circle cx="600.3" cy="334.0" r="0.47" fill-opacity="0.8"/><circle cx="533.5" cy="340.2" r="0.52" fill-opacity="0.6"/><circle cx="517.4" cy="378.6" r="0.56" fill-opacity="0.6"/><circle cx="511.5" cy="332.8" r="0.65" fill-opacity="0.6"/><circle cx="606.1" cy="348.6" r="0.62" fill-opacity="0.8"/><circle cx="611.9" cy="346.4" r="0.69" fill-opacity="0.6"/><circle cx="587.5" cy="341.8" r="0.59" fill-opacity="1.0"/><circle cx="562.0" cy="318.1" r="0.58" fill-opacity="1.0"/><circle cx="522.3" cy="361.7" r="0.69" fill-opacity="1.0"/><circle cx="516.1" cy="377.2" r="0.69" fill-opacity="1.0"/><circle cx="524.5" cy="346.8" r="0.55" fill-opacity="0.6"/><circle cx="554.4" cy="356.0" r="0.46" fill-opacity="0.6"/><circle cx="556.1" cy="338.5" r="0.65" fill-opacity="1.0"/><circle cx="504.9" cy="312.0" r="0.49" fill-opacity="1.0"/><circle cx="548.7" cy="383.2" r="0.65" fill-opacity="0.8"/><circle cx="524.0" cy="344.7" r="0.48" fill-opacity="0.8"/><circle cx="608.6" cy="349.1" r="0.48" fill-opacity="0.8"/><circle cx="569.3" cy="383.6" r="0.48" fill-opacity="0.6"/><circle cx="493.6" cy="317.4" r="0.45" fill-opacity="0.8"/><circle cx="530.9" cy="334.6" r="0.60" fill-opacity="0.6"/><circle cx="554.0" cy="354.1" r="0.66" fill-opacity="1.0"/><circle cx="521.6" cy="321.0" r="0.58" fill-opacity="0.8"/><circle cx="596.3" cy="357.0" r="0.58" fill-opacity="1.0"/><circle cx="558.4" cy="322.8" r="0.50" fill-opacity="1.0"/><circle cx="568.5" cy="377.7" r="0.51" fill-opacity="1.0"/><circle cx="570.6" cy="333.9" r="0.50" fill-opacity="1.0"/><circle cx="529.9" cy="383.4" r="0.50" fill-opacity="0.6"/><circle cx="604.4" cy="315.5" r="0.51" fill-opacity="1.0"/><circle cx="500.5" cy="337.4" r="0.56" fill-opacity="0.8"/><circle cx="559.6" cy="364.6" r="0.50" fill-opacity="1.0"/><circle cx="578.1" cy="305.5" r="0.50" fill-opacity="1.0"/><circle cx="535.5" cy="374.6" r="0.54" fill-opacity="1.0"/><circle cx="554.7" cy="369.2" r="0.58" fill-opacity="1.0"/><circle cx="597.3" cy="373.0" r="0.57" fill-opacity="0.6"/><circle cx="555.9" cy="352.9" r="0.49" fill-opacity="0.6"/><circle cx="503.9" cy="318.8" r="0.49" fill-opacity="0.8"/><circle cx="609.5" cy="312.2" r="0.47" fill-opacity="1.0"/><circle cx="549.1" cy="369.8" r="0.53" fill-opacity="0.8"/><circle cx="544.4" cy="334.5" r="0.50" fill-opacity="0.8"/><circle cx="598.8" cy="319.6" r="0.56" fill-opacity="1.0"/><circle cx="537.1" cy="383.3" r="0.60" fill-opacity="0.6"/><circle cx="580.6" cy="378.0" r="0.61" fill-opacity="0.8"/><circle cx="563.1" cy="320.4" r="0.60" fill-opacity="0.8"/><circle cx="593.6" cy="326.2" r="0.68" fill-opacity="1.0"/><circle cx="585.6" cy="317.8" r="0.68" fill-opacity="0.6"/><circle cx="579.3" cy="370.0" r="0.64" fill-opacity="0.8"/><circle cx="515.9" cy="319.9" r="0.65" fill-opacity="0.8"/><circle cx="535.2" cy="358.9" r="0.61" fill-opacity="0.6"/><circle cx="527.9" cy="322.6" r="0.55" fill-opacity="0.6"/><circle cx="558.3" cy="337.5" r="0.70" fill-opacity="1.0"/><circle cx="516.7" cy="314.3" r="0.55" fill-opacity="1.0"/><circle cx="585.0" cy="326.1" r="0.55" fill-opacity="0.6"/><circle cx="588.0" cy="359.7" r="0.45" fill-opacity="0.8"/><circle cx="521.6" cy="381.9" r="0.59" fill-opacity="1.0"/><circle cx="543.0" cy="348.8" r="0.66" fill-opacity="0.6"/><circle cx="571.9" cy="373.6" r="0.47" fill-opacity="1.0"/><circle cx="575.9" cy="386.2" r="0.55" fill-opacity="0.6"/><circle cx="539.2" cy="387.4" r="0.66" fill-opacity="1.0"/><circle cx="568.5" cy="309.0" r="0.69" fill-opacity="0.8"/><circle cx="526.0" cy="338.3" r="0.53" fill-opacity="1.0"/><circle cx="526.1" cy="360.3" r="0.59" fill-opacity="0.8"/><circle cx="575.3" cy="368.3" r="0.46" fill-opacity="0.6"/><circle cx="565.2" cy="358.4" r="0.55" fill-opacity="1.0"/><circle cx="539.7" cy="381.2" r="0.64" fill-opacity="0.6"/><circle cx="564.6" cy="366.2" r="0.53" fill-opacity="0.6"/><circle cx="544.8" cy="345.1" r="0.69" fill-opacity="0.6"/><circle cx="494.9" cy="312.5" r="0.65" fill-opacity="0.8"/><circle cx="520.9" cy="364.8" r="0.46" fill-opacity="0.8"/><circle cx="548.2" cy="321.5" r="0.46" fill-opacity="1.0"/><circle cx="509.1" cy="335.2" r="0.48" fill-opacity="0.8"/><circle cx="548.2" cy="326.5" r="0.60" fill-opacity="0.8"/><circle cx="536.3" cy="368.0" r="0.65" fill-opacity="0.6"/><circle cx="520.0" cy="313.8" r="0.67" fill-opacity="1.0"/><circle cx="570.2" cy="334.9" r="0.52" fill-opacity="1.0"/><circle cx="583.3" cy="364.1" r="0.50" fill-opacity="0.8"/><circle cx="586.9" cy="320.3" r="0.51" fill-opacity="1.0"/><circle cx="494.1" cy="309.2" r="0.52" fill-opacity="0.8"/><circle cx="517.9" cy="327.9" r="0.64" fill-opacity="1.0"/><circle cx="509.9" cy="324.2" r="0.70" fill-opacity="0.8"/><circle cx="551.2" cy="322.1" r="0.54" fill-opacity="1.0"/><circle cx="593.3" cy="342.5" r="0.66" fill-opacity="0.6"/><circle cx="546.8" cy="368.3" r="0.55" fill-opacity="0.6"/><circle cx="537.0" cy="360.2" r="0.70" fill-opacity="0.8"/><circle cx="526.8" cy="369.3" r="0.66" fill-opacity="0.6"/><circle cx="544.6" cy="335.8" r="0.47" fill-opacity="0.8"/><circle cx="499.2" cy="311.1" r="0.59" fill-opacity="0.8"/><circle cx="595.0" cy="343.9" r="0.66" fill-opacity="0.6"/><circle cx="498.9" cy="322.3" r="0.62" fill-opacity="0.6"/><circle cx="579.4" cy="346.5" r="0.64" fill-opacity="0.8"/><circle cx="525.8" cy="316.3" r="0.54" fill-opacity="1.0"/><circle cx="531.5" cy="381.9" r="0.53" fill-opacity="0.8"/><circle cx="563.0" cy="383.0" r="0.68" fill-opacity="0.8"/><circle cx="545.9" cy="373.1" r="0.53" fill-opacity="0.8"/><circle cx="583.9" cy="348.4" r="0.47" fill-opacity="0.8"/><circle cx="565.0" cy="372.5" r="0.63" fill-opacity="0.8"/><circle cx="592.6" cy="350.5" r="0.66" fill-opacity="1.0"/><circle cx="512.0" cy="311.7" r="0.56" fill-opacity="0.8"/><circle cx="594.5" cy="323.0" r="0.46" fill-opacity="0.6"/><circle cx="562.8" cy="387.1" r="0.61" fill-opacity="0.8"/><circle cx="497.3" cy="351.0" r="0.65" fill-opacity="0.6"/><circle cx="532.5" cy="327.5" r="0.48" fill-opacity="0.8"/><circle cx="500.0" cy="358.5" r="0.49" fill-opacity="1.0"/><circle cx="595.1" cy="340.3" r="0.63" fill-opacity="0.8"/><circle cx="588.5" cy="348.9" r="0.64" fill-opacity="0.8"/><circle cx="534.6" cy="373.4" r="0.53" fill-opacity="0.6"/><circle cx="553.2" cy="350.2" r="0.63" fill-opacity="1.0"/><circle cx="569.4" cy="308.0" r="0.64" fill-opacity="1.0"/><circle cx="538.1" cy="311.7" r="0.57" fill-opacity="1.0"/><circle cx="572.2" cy="349.1" r="0.63" fill-opacity="0.6"/><circle cx="543.8" cy="340.2" r="0.49" fill-opacity="1.0"/><circle cx="510.1" cy="358.6" r="0.62" fill-opacity="0.8"/><circle cx="515.6" cy="340.5" r="0.52" fill-opacity="0.6"/><circle cx="550.3" cy="366.8" r="0.53" fill-opacity="0.6"/><circle cx="589.9" cy="319.4" r="0.47" fill-opacity="0.8"/><circle cx="593.1" cy="330.9" r="0.50" fill-opacity="0.8"/><circle cx="517.3" cy="324.2" r="0.63" fill-opacity="1.0"/><circle cx="555.1" cy="342.0" r="0.67" fill-opacity="0.8"/><circle cx="511.4" cy="369.1" r="0.53" fill-opacity="1.0"/><circle cx="611.5" cy="351.3" r="0.66" fill-opacity="0.8"/><circle cx="533.5" cy="351.1" r="0.69" fill-opacity="0.8"/><circle cx="601.1" cy="338.4" r="0.50" fill-opacity="0.6"/><circle cx="593.2" cy="337.1" r="0.58" fill-opacity="1.0"/><circle cx="589.6" cy="371.7" r="0.46" fill-opacity="0.6"/><circle cx="606.7" cy="342.7" r="0.51" fill-opacity="0.8"/><circle cx="567.8" cy="317.5" r="0.49" fill-opacity="0.8"/><circle cx="594.3" cy="315.3" r="0.64" fill-opacity="1.0"/><circle cx="523.6" cy="350.0" r="0.49" fill-opacity="0.6"/><circle cx="599.0" cy="374.7" r="0.47" fill-opacity="0.8"/><circle cx="568.9" cy="349.4" r="0.67" fill-opacity="1.0"/><circle cx="549.9" cy="386.2" r="0.60" fill-opacity="1.0"/><circle cx="528.5" cy="371.9" r="0.55" fill-opacity="1.0"/><circle cx="516.1" cy="350.7" r="0.58" fill-opacity="0.6"/><circle cx="530.1" cy="338.9" r="0.59" fill-opacity="0.8"/><circle cx="575.7" cy="309.8" r="0.47" fill-opacity="0.6"/><circle cx="502.7" cy="337.9" r="0.57" fill-opacity="0.6"/><circle cx="538.0" cy="365.1" r="0.51" fill-opacity="1.0"/><circle cx="503.7" cy="370.4" r="0.66" fill-opacity="1.0"/><circle cx="515.9" cy="357.0" r="0.52" fill-opacity="0.8"/><circle cx="561.2" cy="311.5" r="0.50" fill-opacity="0.8"/><circle cx="584.1" cy="332.3" r="0.69" fill-opacity="1.0"/><circle cx="550.1" cy="359.1" r="0.56" fill-opacity="0.8"/><circle cx="501.0" cy="316.1" r="0.47" fill-opacity="1.0"/><circle cx="571.0" cy="319.4" r="0.50" fill-opacity="0.6"/><circle cx="597.8" cy="355.0" r="0.47" fill-opacity="0.6"/><circle cx="545.4" cy="370.3" r="0.54" fill-opacity="0.8"/><circle cx="609.5" cy="316.0" r="0.50" fill-opacity="0.6"/><circle cx="595.7" cy="337.2" r="0.53" fill-opacity="0.8"/><circle cx="570.0" cy="366.5" r="0.60" fill-opacity="0.8"/><circle cx="574.8" cy="356.3" r="0.45" fill-opacity="0.8"/><circle cx="513.5" cy="330.4" r="0.56" fill-opacity="1.0"/><circle cx="538.1" cy="347.8" r="0.65" fill-opacity="0.6"/><circle cx="568.5" cy="317.6" r="0.64" fill-opacity="0.8"/><circle cx="560.3" cy="334.3" r="0.58" fill-opacity="0.6"/><circle cx="563.6" cy="321.0" r="0.68" fill-opacity="1.0"/><circle cx="580.9" cy="384.5" r="0.59" fill-opacity="0.6"/><circle cx="570.5" cy="321.0" r="0.47" fill-opacity="0.6"/><circle cx="551.1" cy="339.9" r="0.53" fill-opacity="0.6"/><circle cx="609.8" cy="335.1" r="0.57" fill-opacity="0.6"/><circle cx="547.8" cy="366.8" r="0.51" fill-opacity="1.0"/><circle cx="559.6" cy="352.2" r="0.59" fill-opacity="0.8"/><circle cx="510.9" cy="368.1" r="0.67" fill-opacity="0.8"/><circle cx="567.2" cy="314.5" r="0.66" fill-opacity="0.8"/><circle cx="578.1" cy="335.3" r="0.64" fill-opacity="0.8"/><circle cx="597.0" cy="320.0" r="0.59" fill-opacity="0.6"/><circle cx="548.1" cy="338.7" r="0.65" fill-opacity="1.0"/><circle cx="507.0" cy="369.0" r="0.66" fill-opacity="0.8"/><circle cx="569.0" cy="359.1" r="0.64" fill-opacity="0.6"/><circle cx="514.9" cy="344.3" r="0.49" fill-opacity="0.8"/><circle cx="504.4" cy="338.9" r="0.53" fill-opacity="0.6"/><circle cx="523.3" cy="352.9" r="0.53" fill-opacity="1.0"/><circle cx="590.9" cy="366.1" r="0.65" fill-opacity="0.8"/><circle cx="550.1" cy="339.4" r="0.61" fill-opacity="1.0"/><circle cx="562.4" cy="339.0" r="0.52" fill-opacity="0.8"/><circle cx="598.0" cy="377.5" r="0.55" fill-opacity="0.8"/><circle cx="504.3" cy="313.9" r="0.68" fill-opacity="0.8"/><circle cx="557.3" cy="341.2" r="0.68" fill-opacity="0.8"/><circle cx="606.9" cy="329.5" r="0.60" fill-opacity="0.8"/><circle cx="584.2" cy="355.4" r="0.64" fill-opacity="0.8"/><circle cx="520.8" cy="376.6" r="0.51" fill-opacity="0.8"/><circle cx="559.8" cy="360.5" r="0.69" fill-opacity="0.6"/><circle cx="602.3" cy="335.7" r="0.59" fill-opacity="1.0"/><circle cx="593.7" cy="323.1" r="0.64" fill-opacity="1.0"/><circle cx="504.9" cy="310.2" r="0.58" fill-opacity="0.6"/><circle cx="505.1" cy="350.2" r="0.69" fill-opacity="0.6"/><circle cx="527.5" cy="366.6" r="0.46" fill-opacity="0.6"/><circle cx="595.0" cy="338.2" r="0.54" fill-opacity="1.0"/><circle cx="519.0" cy="330.3" r="0.56" fill-opacity="0.8"/><circle cx="529.0" cy="346.9" r="0.68" fill-opacity="0.8"/><circle cx="603.2" cy="321.4" r="0.66" fill-opacity="1.0"/><circle cx="605.6" cy="320.8" r="0.66" fill-opacity="0.8"/><circle cx="605.9" cy="305.4" r="0.61" fill-opacity="1.0"/><circle cx="571.2" cy="320.5" r="0.67" fill-opacity="0.6"/><circle cx="573.5" cy="330.3" r="0.65" fill-opacity="0.8"/><circle cx="602.0" cy="365.3" r="0.48" fill-opacity="1.0"/><circle cx="543.0" cy="318.6" r="0.67" fill-opacity="0.6"/><circle cx="581.4" cy="320.9" r="0.50" fill-opacity="0.6"/><circle cx="554.2" cy="329.4" r="0.52" fill-opacity="1.0"/><circle cx="557.2" cy="314.0" r="0.58" fill-opacity="0.8"/><circle cx="605.4" cy="319.5" r="0.51" fill-opacity="0.6"/><circle cx="572.2" cy="311.7" r="0.70" fill-opacity="0.8"/><circle cx="608.2" cy="310.3" r="0.68" fill-opacity="0.6"/><circle cx="567.0" cy="328.5" r="0.51" fill-opacity="1.0"/><circle cx="500.3" cy="328.5" r="0.64" fill-opacity="0.6"/><circle cx="512.3" cy="367.1" r="0.46" fill-opacity="0.6"/><circle cx="549.0" cy="368.6" r="0.55" fill-opacity="0.8"/><circle cx="496.8" cy="309.5" r="0.64" fill-opacity="0.8"/><circle cx="530.7" cy="345.6" r="0.46" fill-opacity="0.8"/><circle cx="554.7" cy="376.7" r="0.62" fill-opacity="1.0"/><circle cx="585.8" cy="349.7" r="0.60" fill-opacity="0.6"/><circle cx="503.6" cy="341.5" r="0.62" fill-opacity="1.0"/><circle cx="589.5" cy="371.6" r="0.65" fill-opacity="0.6"/><circle cx="522.8" cy="350.8" r="0.66" fill-opacity="1.0"/><circle cx="553.9" cy="307.0" r="0.60" fill-opacity="1.0"/><circle cx="495.8" cy="342.6" r="0.67" fill-opacity="0.8"/><circle cx="553.5" cy="341.4" r="0.56" fill-opacity="0.8"/><circle cx="600.4" cy="306.7" r="0.48" fill-opacity="0.6"/><circle cx="563.0" cy="350.7" r="0.65" fill-opacity="0.6"/><circle cx="570.0" cy="308.6" r="0.56" fill-opacity="1.0"/><circle cx="529.9" cy="357.4" r="0.58" fill-opacity="0.8"/><circle cx="588.5" cy="346.9" r="0.61" fill-opacity="1.0"/><circle cx="511.3" cy="325.9" r="0.49" fill-opacity="1.0"/><circle cx="574.7" cy="355.2" r="0.56" fill-opacity="0.8"/><circle cx="542.4" cy="335.3" r="0.50" fill-opacity="0.6"/><circle cx="505.7" cy="369.0" r="0.60" fill-opacity="0.6"/><circle cx="507.8" cy="343.2" r="0.64" fill-opacity="0.6"/><circle cx="557.3" cy="311.9" r="0.59" fill-opacity="0.8"/><circle cx="544.2" cy="310.6" r="0.46" fill-opacity="1.0"/><circle cx="588.2" cy="367.1" r="0.51" fill-opacity="0.8"/><circle cx="543.4" cy="311.4" r="0.51" fill-opacity="0.8"/><circle cx="568.4" cy="307.4" r="0.55" fill-opacity="1.0"/><circle cx="562.8" cy="382.4" r="0.67" fill-opacity="0.6"/><circle cx="549.1" cy="337.8" r="0.66" fill-opacity="0.8"/><circle cx="538.2" cy="308.2" r="0.55" fill-opacity="0.6"/><circle cx="512.9" cy="351.3" r="0.49" fill-opacity="0.6"/><circle cx="541.0" cy="355.1" r="0.64" fill-opacity="0.8"/><circle cx="577.3" cy="378.2" r="0.50" fill-opacity="0.8"/><circle cx="543.5" cy="308.1" r="0.52" fill-opacity="0.8"/><circle cx="569.7" cy="348.6" r="0.64" fill-opacity="1.0"/><circle cx="540.1" cy="383.4" r="0.63" fill-opacity="0.8"/><circle cx="502.4" cy="308.9" r="0.63" fill-opacity="0.8"/><circle cx="506.8" cy="324.7" r="0.66" fill-opacity="0.6"/><circle cx="491.7" cy="331.7" r="0.55" fill-opacity="0.6"/><circle cx="600.1" cy="336.8" r="0.51" fill-opacity="1.0"/><circle cx="576.0" cy="330.0" r="0.60" fill-opacity="0.8"/><circle cx="494.3" cy="317.0" r="0.60" fill-opacity="0.6"/><circle cx="516.1" cy="339.3" r="0.57" fill-opacity="1.0"/><circle cx="506.7" cy="364.8" r="0.52" fill-opacity="1.0"/><circle cx="547.7" cy="336.4" r="0.67" fill-opacity="0.8"/><circle cx="558.5" cy="342.6" r="0.48" fill-opacity="1.0"/><circle cx="601.6" cy="323.4" r="0.52" fill-opacity="0.8"/><circle cx="568.5" cy="316.1" r="0.66" fill-opacity="1.0"/><circle cx="571.0" cy="352.7" r="0.65" fill-opacity="1.0"/><circle cx="527.8" cy="361.7" r="0.68" fill-opacity="0.6"/><circle cx="561.6" cy="334.4" r="0.48" fill-opacity="0.8"/><circle cx="519.5" cy="358.4" r="0.47" fill-opacity="0.8"/><circle cx="504.6" cy="346.4" r="0.57" fill-opacity="0.8"/><circle cx="526.0" cy="364.5" r="0.51" fill-opacity="0.8"/><circle cx="515.2" cy="370.1" r="0.54" fill-opacity="1.0"/><circle cx="520.2" cy="312.0" r="0.54" fill-opacity="0.8"/><circle cx="593.5" cy="345.1" r="0.51" fill-opacity="1.0"/><circle cx="529.1" cy="382.7" r="0.68" fill-opacity="0.6"/><circle cx="536.4" cy="309.4" r="0.55" fill-opacity="0.6"/><circle cx="538.0" cy="376.8" r="0.52" fill-opacity="1.0"/><circle cx="531.3" cy="325.8" r="0.46" fill-opacity="0.8"/><circle cx="531.1" cy="336.1" r="0.52" fill-opacity="1.0"/><circle cx="604.3" cy="359.2" r="0.55" fill-opacity="0.8"/><circle cx="613.1" cy="335.2" r="0.59" fill-opacity="0.6"/><circle cx="589.3" cy="358.0" r="0.61" fill-opacity="0.8"/><circle cx="568.7" cy="309.5" r="0.47" fill-opacity="0.8"/><circle cx="603.4" cy="336.8" r="0.68" fill-opacity="0.6"/><circle cx="593.5" cy="362.8" r="0.52" fill-opacity="0.8"/><circle cx="535.9" cy="388.0" r="0.49" fill-opacity="0.6"/><circle cx="524.1" cy="326.2" r="0.51" fill-opacity="1.0"/><circle cx="540.2" cy="324.6" r="0.57" fill-opacity="1.0"/><circle cx="588.5" cy="310.8" r="0.66" fill-opacity="1.0"/><circle cx="614.9" cy="332.7" r="0.54" fill-opacity="0.6"/><circle cx="529.7" cy="365.6" r="0.62" fill-opacity="1.0"/><circle cx="509.3" cy="320.5" r="0.49" fill-opacity="0.8"/><circle cx="569.8" cy="346.2" r="0.59" fill-opacity="0.8"/><circle cx="542.9" cy="335.5" r="0.62" fill-opacity="0.8"/><circle cx="519.8" cy="325.4" r="0.53" fill-opacity="0.6"/><circle cx="595.3" cy="380.2" r="0.53" fill-opacity="0.8"/><circle cx="555.6" cy="362.4" r="0.46" fill-opacity="1.0"/><circle cx="495.9" cy="325.8" r="0.58" fill-opacity="1.0"/><circle cx="540.0" cy="365.6" r="0.51" fill-opacity="1.0"/><circle cx="577.8" cy="319.8" r="0.66" fill-opacity="0.6"/><circle cx="598.6" cy="375.3" r="0.59" fill-opacity="0.8"/><circle cx="572.4" cy="314.8" r="0.64" fill-opacity="0.8"/><circle cx="593.2" cy="314.8" r="0.54" fill-opacity="1.0"/><circle cx="527.0" cy="360.1" r="0.69" fill-opacity="0.8"/><circle cx="565.1" cy="384.9" r="0.69" fill-opacity="0.6"/><circle cx="523.8" cy="327.3" r="0.51" fill-opacity="1.0"/><circle cx="540.6" cy="384.3" r="0.70" fill-opacity="0.6"/><circle cx="602.2" cy="320.7" r="0.54" fill-opacity="1.0"/><circle cx="531.9" cy="306.3" r="0.59" fill-opacity="0.8"/><circle cx="511.3" cy="309.8" r="0.56" fill-opacity="1.0"/><circle cx="525.9" cy="337.7" r="0.60" fill-opacity="0.6"/><circle cx="579.2" cy="351.0" r="0.65" fill-opacity="0.6"/><circle cx="546.5" cy="375.7" r="0.59" fill-opacity="0.8"/><circle cx="603.5" cy="341.2" r="0.49" fill-opacity="0.6"/><circle cx="524.1" cy="352.9" r="0.52" fill-opacity="0.8"/><circle cx="524.6" cy="323.6" r="0.57" fill-opacity="0.8"/><circle cx="560.7" cy="352.1" r="0.49" fill-opacity="0.6"/><circle cx="605.0" cy="330.6" r="0.47" fill-opacity="0.6"/><circle cx="532.7" cy="316.0" r="0.65" fill-opacity="0.8"/></g><g fill="#222"><circle cx="550.7" cy="360.5" r="0.53" fill-opacity="0.2"/><circle cx="551.7" cy="359.3" r="0.49" fill-opacity="0.45"/><circle cx="570.2" cy="388.1" r="0.47" fill-opacity="0.3"/><circle cx="606.8" cy="309.1" r="0.56" fill-opacity="0.2"/><circle cx="555.8" cy="374.5" r="0.54" fill-opacity="0.2"/><circle cx="491.4" cy="309.2" r="0.58" fill-opacity="0.45"/><circle cx="544.1" cy="342.2" r="0.53" fill-opacity="0.2"/><circle cx="559.1" cy="379.9" r="0.51" fill-opacity="0.45"/><circle cx="604.1" cy="351.7" r="0.50" fill-opacity="0.2"/><circle cx="541.1" cy="340.0" r="0.52" fill-opacity="0.3"/><circle cx="568.2" cy="350.5" r="0.53" fill-opacity="0.2"/><circle cx="575.3" cy="334.6" r="0.47" fill-opacity="0.45"/><circle cx="539.1" cy="330.7" r="0.45" fill-opacity="0.3"/><circle cx="536.2" cy="348.0" r="0.56" fill-opacity="0.45"/><circle cx="512.3" cy="336.8" r="0.57" fill-opacity="0.2"/><circle cx="556.5" cy="323.1" r="0.49" fill-opacity="0.3"/><circle cx="515.6" cy="356.2" r="0.55" fill-opacity="0.2"/><circle cx="512.1" cy="363.8" r="0.41" fill-opacity="0.3"/><circle cx="553.8" cy="355.8" r="0.55" fill-opacity="0.45"/><circle cx="548.7" cy="322.0" r="0.46" fill-opacity="0.3"/><circle cx="579.6" cy="377.6" r="0.45" fill-opacity="0.2"/><circle cx="549.4" cy="351.2" r="0.44" fill-opacity="0.45"/><circle cx="517.6" cy="356.2" r="0.59" fill-opacity="0.3"/><circle cx="512.3" cy="372.4" r="0.50" fill-opacity="0.2"/><circle cx="492.1" cy="331.7" r="0.56" fill-opacity="0.3"/><circle cx="572.1" cy="323.7" r="0.51" fill-opacity="0.3"/><circle cx="552.7" cy="334.4" r="0.54" fill-opacity="0.3"/><circle cx="605.3" cy="317.9" r="0.46" fill-opacity="0.2"/><circle cx="525.2" cy="385.2" r="0.50" fill-opacity="0.45"/><circle cx="546.9" cy="372.1" r="0.55" fill-opacity="0.45"/><circle cx="522.1" cy="362.8" r="0.54" fill-opacity="0.2"/><circle cx="561.5" cy="326.9" r="0.43" fill-opacity="0.2"/><circle cx="545.6" cy="388.2" r="0.51" fill-opacity="0.45"/><circle cx="582.4" cy="384.5" r="0.45" fill-opacity="0.2"/><circle cx="543.3" cy="354.6" r="0.58" fill-opacity="0.2"/><circle cx="564.4" cy="333.9" r="0.47" fill-opacity="0.45"/><circle cx="539.1" cy="317.8" r="0.54" fill-opacity="0.2"/><circle cx="558.5" cy="371.9" r="0.48" fill-opacity="0.2"/><circle cx="581.3" cy="320.2" r="0.45" fill-opacity="0.45"/><circle cx="578.3" cy="346.3" r="0.52" fill-opacity="0.2"/><circle cx="558.5" cy="364.3" r="0.48" fill-opacity="0.2"/><circle cx="498.3" cy="334.6" r="0.42" fill-opacity="0.3"/><circle cx="507.4" cy="311.8" r="0.46" fill-opacity="0.45"/><circle cx="512.4" cy="362.3" r="0.53" fill-opacity="0.3"/><circle cx="536.5" cy="306.6" r="0.50" fill-opacity="0.3"/><circle cx="552.1" cy="308.9" r="0.52" fill-opacity="0.3"/><circle cx="520.0" cy="332.2" r="0.59" fill-opacity="0.2"/><circle cx="614.3" cy="335.5" r="0.57" fill-opacity="0.45"/><circle cx="545.2" cy="323.0" r="0.58" fill-opacity="0.45"/><circle cx="606.3" cy="332.6" r="0.50" fill-opacity="0.3"/><circle cx="567.8" cy="376.5" r="0.45" fill-opacity="0.3"/><circle cx="591.1" cy="308.2" r="0.55" fill-opacity="0.3"/><circle cx="558.9" cy="369.5" r="0.48" fill-opacity="0.45"/><circle cx="546.2" cy="308.5" r="0.42" fill-opacity="0.45"/><circle cx="577.5" cy="334.1" r="0.55" fill-opacity="0.3"/><circle cx="589.8" cy="381.0" r="0.53" fill-opacity="0.2"/><circle cx="506.7" cy="323.4" r="0.51" fill-opacity="0.3"/><circle cx="553.3" cy="340.9" r="0.47" fill-opacity="0.3"/><circle cx="610.7" cy="355.5" r="0.48" fill-opacity="0.45"/><circle cx="530.7" cy="314.8" r="0.53" fill-opacity="0.45"/><circle cx="568.1" cy="371.5" r="0.48" fill-opacity="0.45"/><circle cx="574.6" cy="333.2" r="0.55" fill-opacity="0.3"/><circle cx="539.0" cy="338.4" r="0.56" fill-opacity="0.2"/><circle cx="591.5" cy="375.9" r="0.42" fill-opacity="0.3"/><circle cx="557.0" cy="308.6" r="0.57" fill-opacity="0.45"/><circle cx="595.7" cy="334.9" r="0.55" fill-opacity="0.3"/><circle cx="589.2" cy="377.9" r="0.46" fill-opacity="0.2"/><circle cx="586.4" cy="377.9" r="0.51" fill-opacity="0.2"/><circle cx="510.2" cy="365.6" r="0.46" fill-opacity="0.2"/><circle cx="560.0" cy="305.9" r="0.58" fill-opacity="0.3"/><circle cx="578.0" cy="350.1" r="0.49" fill-opacity="0.45"/><circle cx="540.1" cy="345.8" r="0.46" fill-opacity="0.3"/><circle cx="571.4" cy="337.4" r="0.48" fill-opacity="0.45"/><circle cx="491.7" cy="317.3" r="0.55" fill-opacity="0.3"/><circle cx="578.8" cy="386.2" r="0.54" fill-opacity="0.3"/><circle cx="560.3" cy="386.8" r="0.47" fill-opacity="0.2"/><circle cx="598.1" cy="315.1" r="0.41" fill-opacity="0.2"/><circle cx="544.0" cy="373.3" r="0.57" fill-opacity="0.2"/><circle cx="562.4" cy="383.4" r="0.55" fill-opacity="0.45"/><circle cx="492.6" cy="323.6" r="0.59" fill-opacity="0.3"/><circle cx="570.8" cy="343.6" r="0.47" fill-opacity="0.45"/><circle cx="559.6" cy="331.2" r="0.45" fill-opacity="0.2"/><circle cx="574.3" cy="333.0" r="0.41" fill-opacity="0.45"/><circle cx="610.3" cy="335.2" r="0.46" fill-opacity="0.3"/><circle cx="567.0" cy="361.5" r="0.40" fill-opacity="0.2"/><circle cx="505.0" cy="341.5" r="0.47" fill-opacity="0.3"/><circle cx="587.4" cy="333.2" r="0.48" fill-opacity="0.3"/><circle cx="533.5" cy="380.5" r="0.53" fill-opacity="0.45"/><circle cx="536.0" cy="323.8" r="0.48" fill-opacity="0.45"/><circle cx="562.4" cy="376.1" r="0.53" fill-opacity="0.3"/><circle cx="585.8" cy="325.7" r="0.48" fill-opacity="0.2"/><circle cx="504.5" cy="354.5" r="0.50" fill-opacity="0.3"/><circle cx="560.2" cy="355.2" r="0.52" fill-opacity="0.3"/><circle cx="532.6" cy="336.2" r="0.58" fill-opacity="0.3"/><circle cx="611.7" cy="355.5" r="0.41" fill-opacity="0.45"/><circle cx="541.0" cy="321.6" r="0.46" fill-opacity="0.3"/><circle cx="569.1" cy="377.8" r="0.43" fill-opacity="0.3"/><circle cx="532.2" cy="360.5" r="0.48" fill-opacity="0.45"/><circle cx="531.7" cy="350.2" r="0.57" fill-opacity="0.45"/><circle cx="502.2" cy="325.5" r="0.56" fill-opacity="0.2"/><circle cx="576.6" cy="318.8" r="0.49" fill-opacity="0.3"/><circle cx="513.4" cy="327.6" r="0.42" fill-opacity="0.2"/><circle cx="565.7" cy="345.2" r="0.59" fill-opacity="0.3"/><circle cx="506.2" cy="345.6" r="0.49" fill-opacity="0.3"/><circle cx="535.7" cy="365.5" r="0.55" fill-opacity="0.2"/><circle cx="565.7" cy="371.5" r="0.50" fill-opacity="0.45"/><circle cx="575.1" cy="357.0" r="0.54" fill-opacity="0.3"/><circle cx="540.9" cy="315.8" r="0.41" fill-opacity="0.45"/><circle cx="591.7" cy="337.6" r="0.59" fill-opacity="0.3"/><circle cx="508.7" cy="376.0" r="0.48" fill-opacity="0.3"/><circle cx="512.3" cy="340.3" r="0.57" fill-opacity="0.2"/><circle cx="495.6" cy="314.1" r="0.46" fill-opacity="0.2"/><circle cx="516.4" cy="371.0" r="0.51" fill-opacity="0.45"/><circle cx="552.7" cy="355.7" r="0.59" fill-opacity="0.2"/><circle cx="598.0" cy="336.7" r="0.51" fill-opacity="0.3"/><circle cx="610.1" cy="349.4" r="0.47" fill-opacity="0.2"/><circle cx="505.4" cy="321.8" r="0.57" fill-opacity="0.2"/><circle cx="591.9" cy="326.4" r="0.51" fill-opacity="0.3"/><circle cx="503.1" cy="357.1" r="0.44" fill-opacity="0.45"/><circle cx="598.1" cy="359.4" r="0.49" fill-opacity="0.2"/><circle cx="598.4" cy="311.3" r="0.51" fill-opacity="0.45"/><circle cx="548.1" cy="371.8" r="0.59" fill-opacity="0.45"/><circle cx="554.6" cy="339.7" r="0.43" fill-opacity="0.3"/><circle cx="592.5" cy="349.4" r="0.52" fill-opacity="0.3"/><circle cx="517.6" cy="339.0" r="0.56" fill-opacity="0.45"/><circle cx="540.2" cy="310.9" r="0.54" fill-opacity="0.2"/><circle cx="602.0" cy="359.9" r="0.47" fill-opacity="0.3"/><circle cx="534.1" cy="360.3" r="0.57" fill-opacity="0.2"/><circle cx="615.8" cy="316.1" r="0.52" fill-opacity="0.2"/><circle cx="591.3" cy="347.3" r="0.43" fill-opacity="0.45"/><circle cx="596.5" cy="378.0" r="0.60" fill-opacity="0.2"/><circle cx="597.2" cy="305.7" r="0.43" fill-opacity="0.3"/><circle cx="563.0" cy="364.3" r="0.55" fill-opacity="0.3"/><circle cx="586.6" cy="328.5" r="0.55" fill-opacity="0.3"/><circle cx="610.1" cy="334.5" r="0.46" fill-opacity="0.45"/><circle cx="552.7" cy="339.7" r="0.47" fill-opacity="0.45"/><circle cx="528.3" cy="379.0" r="0.52" fill-opacity="0.45"/><circle cx="606.6" cy="329.7" r="0.57" fill-opacity="0.3"/><circle cx="608.4" cy="324.6" r="0.51" fill-opacity="0.45"/><circle cx="568.3" cy="367.9" r="0.60" fill-opacity="0.45"/><circle cx="533.3" cy="327.0" r="0.41" fill-opacity="0.2"/><circle cx="607.5" cy="331.2" r="0.41" fill-opacity="0.3"/><circle cx="574.8" cy="345.3" r="0.44" fill-opacity="0.2"/><circle cx="569.7" cy="375.0" r="0.53" fill-opacity="0.3"/><circle cx="555.9" cy="361.9" r="0.49" fill-opacity="0.3"/><circle cx="598.9" cy="362.3" r="0.52" fill-opacity="0.2"/><circle cx="557.9" cy="365.7" r="0.60" fill-opacity="0.2"/><circle cx="515.2" cy="339.4" r="0.44" fill-opacity="0.45"/><circle cx="498.2" cy="344.4" r="0.58" fill-opacity="0.3"/><circle cx="556.2" cy="341.3" r="0.48" fill-opacity="0.2"/><circle cx="511.0" cy="376.7" r="0.51" fill-opacity="0.2"/><circle cx="573.5" cy="316.4" r="0.51" fill-opacity="0.2"/><circle cx="583.0" cy="357.8" r="0.53" fill-opacity="0.2"/><circle cx="519.3" cy="366.8" r="0.50" fill-opacity="0.2"/><circle cx="509.7" cy="311.6" r="0.59" fill-opacity="0.45"/><circle cx="518.8" cy="383.9" r="0.59" fill-opacity="0.2"/><circle cx="605.2" cy="348.4" r="0.52" fill-opacity="0.45"/><circle cx="600.8" cy="326.4" r="0.42" fill-opacity="0.2"/><circle cx="560.3" cy="382.8" r="0.51" fill-opacity="0.45"/><circle cx="576.1" cy="340.7" r="0.41" fill-opacity="0.45"/><circle cx="505.4" cy="321.2" r="0.49" fill-opacity="0.45"/><circle cx="512.8" cy="309.4" r="0.58" fill-opacity="0.2"/><circle cx="504.9" cy="349.8" r="0.48" fill-opacity="0.45"/><circle cx="516.0" cy="341.7" r="0.58" fill-opacity="0.45"/><circle cx="595.1" cy="347.9" r="0.56" fill-opacity="0.2"/><circle cx="492.3" cy="332.7" r="0.59" fill-opacity="0.2"/><circle cx="587.8" cy="335.9" r="0.46" fill-opacity="0.3"/><circle cx="504.5" cy="360.6" r="0.43" fill-opacity="0.45"/><circle cx="592.6" cy="312.3" r="0.54" fill-opacity="0.3"/><circle cx="537.3" cy="328.1" r="0.47" fill-opacity="0.2"/><circle cx="502.8" cy="327.5" r="0.54" fill-opacity="0.3"/><circle cx="590.1" cy="345.2" r="0.47" fill-opacity="0.2"/><circle cx="577.3" cy="378.2" r="0.58" fill-opacity="0.3"/><circle cx="604.1" cy="369.8" r="0.48" fill-opacity="0.2"/><circle cx="509.4" cy="342.3" r="0.54" fill-opacity="0.45"/><circle cx="598.9" cy="342.6" r="0.51" fill-opacity="0.45"/><circle cx="514.5" cy="346.4" r="0.51" fill-opacity="0.45"/><circle cx="593.4" cy="339.6" r="0.42" fill-opacity="0.3"/><circle cx="549.1" cy="334.6" r="0.46" fill-opacity="0.3"/><circle cx="491.7" cy="332.9" r="0.45" fill-opacity="0.2"/><circle cx="496.8" cy="315.6" r="0.59" fill-opacity="0.45"/><circle cx="526.7" cy="308.4" r="0.56" fill-opacity="0.45"/><circle cx="583.0" cy="316.3" r="0.56" fill-opacity="0.45"/><circle cx="600.3" cy="335.6" r="0.43" fill-opacity="0.3"/><circle cx="569.9" cy="311.8" r="0.42" fill-opacity="0.45"/><circle cx="534.8" cy="345.1" r="0.43" fill-opacity="0.2"/><circle cx="582.6" cy="333.0" r="0.42" fill-opacity="0.45"/><circle cx="508.6" cy="342.3" r="0.42" fill-opacity="0.2"/><circle cx="492.7" cy="308.9" r="0.50" fill-opacity="0.2"/><circle cx="588.8" cy="364.7" r="0.59" fill-opacity="0.2"/><circle cx="560.0" cy="358.0" r="0.57" fill-opacity="0.3"/><circle cx="600.8" cy="307.5" r="0.60" fill-opacity="0.45"/><circle cx="550.4" cy="359.1" r="0.48" fill-opacity="0.45"/><circle cx="529.3" cy="349.5" r="0.50" fill-opacity="0.3"/><circle cx="564.2" cy="351.1" r="0.48" fill-opacity="0.45"/><circle cx="549.5" cy="387.6" r="0.43" fill-opacity="0.2"/><circle cx="594.4" cy="328.1" r="0.52" fill-opacity="0.2"/><circle cx="515.9" cy="375.0" r="0.57" fill-opacity="0.2"/><circle cx="511.2" cy="352.1" r="0.58" fill-opacity="0.3"/><circle cx="579.6" cy="361.0" r="0.43" fill-opacity="0.45"/><circle cx="560.5" cy="331.4" r="0.43" fill-opacity="0.3"/><circle cx="616.9" cy="305.8" r="0.59" fill-opacity="0.2"/><circle cx="602.7" cy="325.2" r="0.52" fill-opacity="0.45"/><circle cx="542.4" cy="328.4" r="0.47" fill-opacity="0.3"/><circle cx="545.4" cy="309.7" r="0.52" fill-opacity="0.2"/><circle cx="572.1" cy="364.6" r="0.57" fill-opacity="0.45"/><circle cx="554.0" cy="306.7" r="0.55" fill-opacity="0.45"/><circle cx="605.4" cy="309.3" r="0.58" fill-opacity="0.2"/><circle cx="545.2" cy="341.6" r="0.59" fill-opacity="0.45"/><circle cx="547.1" cy="372.7" r="0.48" fill-opacity="0.2"/><circle cx="534.5" cy="321.2" r="0.48" fill-opacity="0.3"/><circle cx="576.0" cy="358.8" r="0.46" fill-opacity="0.45"/><circle cx="513.4" cy="337.7" r="0.46" fill-opacity="0.2"/><circle cx="609.1" cy="321.9" r="0.50" fill-opacity="0.3"/><circle cx="514.0" cy="317.7" r="0.42" fill-opacity="0.2"/><circle cx="500.9" cy="353.4" r="0.49" fill-opacity="0.3"/><circle cx="537.2" cy="347.4" r="0.52" fill-opacity="0.45"/><circle cx="553.5" cy="361.5" r="0.41" fill-opacity="0.2"/><circle cx="507.8" cy="373.7" r="0.49" fill-opacity="0.45"/><circle cx="611.9" cy="332.5" r="0.40" fill-opacity="0.2"/><circle cx="578.6" cy="340.1" r="0.52" fill-opacity="0.2"/><circle cx="600.2" cy="348.2" r="0.53" fill-opacity="0.3"/><circle cx="519.0" cy="307.7" r="0.52" fill-opacity="0.45"/><circle cx="547.0" cy="355.8" r="0.50" fill-opacity="0.45"/><circle cx="534.0" cy="358.5" r="0.40" fill-opacity="0.3"/><circle cx="565.8" cy="357.5" r="0.57" fill-opacity="0.45"/><circle cx="552.7" cy="315.6" r="0.50" fill-opacity="0.45"/><circle cx="566.2" cy="307.1" r="0.59" fill-opacity="0.3"/><circle cx="536.1" cy="370.1" r="0.58" fill-opacity="0.2"/><circle cx="543.5" cy="369.6" r="0.54" fill-opacity="0.2"/><circle cx="517.8" cy="344.6" r="0.59" fill-opacity="0.3"/><circle cx="596.2" cy="358.0" r="0.58" fill-opacity="0.2"/><circle cx="497.7" cy="320.2" r="0.43" fill-opacity="0.45"/><circle cx="543.5" cy="330.8" r="0.59" fill-opacity="0.45"/><circle cx="564.4" cy="386.5" r="0.45" fill-opacity="0.3"/><circle cx="560.8" cy="316.2" r="0.45" fill-opacity="0.3"/><circle cx="545.4" cy="362.9" r="0.44" fill-opacity="0.45"/><circle cx="567.2" cy="380.9" r="0.45" fill-opacity="0.3"/><circle cx="606.0" cy="343.5" r="0.50" fill-opacity="0.3"/><circle cx="596.0" cy="321.0" r="0.55" fill-opacity="0.2"/><circle cx="567.8" cy="331.9" r="0.40" fill-opacity="0.45"/><circle cx="554.6" cy="358.0" r="0.42" fill-opacity="0.3"/><circle cx="550.5" cy="356.8" r="0.53" fill-opacity="0.45"/><circle cx="504.5" cy="350.7" r="0.43" fill-opacity="0.45"/><circle cx="544.5" cy="365.8" r="0.48" fill-opacity="0.45"/><circle cx="536.9" cy="335.5" r="0.54" fill-opacity="0.45"/><circle cx="605.3" cy="356.7" r="0.52" fill-opacity="0.45"/><circle cx="563.7" cy="328.2" r="0.41" fill-opacity="0.45"/><circle cx="555.7" cy="315.2" r="0.53" fill-opacity="0.3"/><circle cx="593.3" cy="316.4" r="0.54" fill-opacity="0.45"/><circle cx="530.4" cy="311.8" r="0.51" fill-opacity="0.2"/><circle cx="507.2" cy="330.0" r="0.52" fill-opacity="0.45"/><circle cx="541.9" cy="311.5" r="0.44" fill-opacity="0.45"/><circle cx="577.5" cy="346.8" r="0.55" fill-opacity="0.2"/><circle cx="598.1" cy="336.5" r="0.46" fill-opacity="0.3"/><circle cx="535.1" cy="364.3" r="0.50" fill-opacity="0.45"/><circle cx="566.6" cy="360.6" r="0.51" fill-opacity="0.2"/><circle cx="547.0" cy="314.3" r="0.50" fill-opacity="0.2"/><circle cx="604.1" cy="315.5" r="0.50" fill-opacity="0.3"/><circle cx="563.2" cy="337.0" r="0.57" fill-opacity="0.2"/><circle cx="583.7" cy="344.0" r="0.55" fill-opacity="0.45"/><circle cx="583.5" cy="339.0" r="0.56" fill-opacity="0.45"/><circle cx="576.6" cy="354.1" r="0.50" fill-opacity="0.45"/><circle cx="541.7" cy="333.4" r="0.41" fill-opacity="0.45"/><circle cx="500.6" cy="348.3" r="0.54" fill-opacity="0.45"/><circle cx="575.3" cy="312.7" r="0.59" fill-opacity="0.45"/><circle cx="597.6" cy="362.8" r="0.55" fill-opacity="0.2"/><circle cx="524.5" cy="371.7" r="0.56" fill-opacity="0.3"/><circle cx="563.0" cy="347.9" r="0.47" fill-opacity="0.45"/><circle cx="605.7" cy="307.9" r="0.56" fill-opacity="0.3"/><circle cx="590.3" cy="339.8" r="0.50" fill-opacity="0.45"/><circle cx="548.7" cy="383.8" r="0.50" fill-opacity="0.45"/><circle cx="521.7" cy="317.0" r="0.41" fill-opacity="0.3"/><circle cx="594.4" cy="357.8" r="0.56" fill-opacity="0.3"/><circle cx="554.7" cy="339.2" r="0.54" fill-opacity="0.2"/><circle cx="607.0" cy="335.3" r="0.47" fill-opacity="0.45"/><circle cx="596.3" cy="354.8" r="0.51" fill-opacity="0.2"/><circle cx="537.2" cy="322.6" r="0.45" fill-opacity="0.3"/><circle cx="518.1" cy="356.2" r="0.43" fill-opacity="0.3"/><circle cx="495.5" cy="349.2" r="0.41" fill-opacity="0.3"/><circle cx="617.0" cy="305.9" r="0.48" fill-opacity="0.45"/><circle cx="576.1" cy="354.8" r="0.45" fill-opacity="0.2"/><circle cx="596.9" cy="322.9" r="0.54" fill-opacity="0.45"/><circle cx="549.4" cy="358.1" r="0.56" fill-opacity="0.45"/><circle cx="569.4" cy="335.3" r="0.51" fill-opacity="0.3"/><circle cx="539.7" cy="346.9" r="0.57" fill-opacity="0.45"/><circle cx="581.1" cy="349.7" r="0.49" fill-opacity="0.3"/><circle cx="562.2" cy="361.5" r="0.47" fill-opacity="0.3"/><circle cx="585.4" cy="380.2" r="0.46" fill-opacity="0.45"/><circle cx="518.5" cy="364.6" r="0.51" fill-opacity="0.3"/><circle cx="524.9" cy="333.8" r="0.45" fill-opacity="0.45"/><circle cx="557.1" cy="313.3" r="0.54" fill-opacity="0.2"/><circle cx="533.6" cy="375.8" r="0.56" fill-opacity="0.2"/><circle cx="554.3" cy="369.6" r="0.40" fill-opacity="0.45"/><circle cx="530.4" cy="368.0" r="0.47" fill-opacity="0.2"/><circle cx="601.1" cy="368.5" r="0.49" fill-opacity="0.2"/><circle cx="547.7" cy="377.3" r="0.50" fill-opacity="0.3"/><circle cx="586.0" cy="318.8" r="0.40" fill-opacity="0.2"/><circle cx="603.3" cy="365.7" r="0.45" fill-opacity="0.3"/><circle cx="538.7" cy="308.6" r="0.46" fill-opacity="0.45"/></g></g><ellipse cx="273" cy="280.5" rx="23.6" ry="17.2" fill="#fff" stroke="#1e1e1e" stroke-width="1.1" /><ellipse cx="324.2" cy="278.5" rx="22" ry="17.2" fill="#fff" stroke="#1e1e1e" stroke-width="1.1" /><ellipse cx="270.9" cy="277.2" rx="5.8" ry="3.8" fill="#fff" stroke="#1e1e1e" stroke-width="1.1" /><ellipse cx="270.9" cy="277.2" rx="1.6" ry="1.1" fill="#fff" stroke="#1e1e1e" stroke-width="1.1" /><ellipse cx="325.4" cy="277.4" rx="6.6" ry="3.9" fill="#fff" stroke="#1e1e1e" stroke-width="1.1" /><ellipse cx="325.4" cy="277.4" rx="2.0" ry="1.2" fill="#fff" stroke="#1e1e1e" stroke-width="1.1" /><circle cx="266.2" cy="292.9" r="5.9" fill="none" stroke="#222" stroke-width="1"/><circle cx="282.2" cy="289.4" r="6.5" fill="none" stroke="#222" stroke-width="1"/><circle cx="310.6" cy="285.5" r="5.9" fill="none" stroke="#222" stroke-width="1"/><circle cx="322.8" cy="290.4" r="6.6" fill="none" stroke="#222" stroke-width="1"/><ellipse cx="297.6" cy="257.4" rx="1.9" ry="1.3" fill="#fff" stroke="#1e1e1e" stroke-width="1.1" /><g stroke="#222" stroke-width="0.9" fill="none"><line x1="220.2" y1="262.4" x2="266.2" y2="292.9"/><line x1="220.2" y1="262.4" x2="282" y2="289.4"/><line x1="220.2" y1="262.4" x2="310.6" y2="285.5"/><line x1="220.2" y1="262.4" x2="322.8" y2="290.4"/></g><circle cx="205.6" cy="259.4" r="9.3" fill="#fff" stroke="#555" stroke-width="0.9"/><text x="205.6" y="265.84" font-size="18" text-anchor="middle" fill="#111">3</text><line x1="297.8" y1="227.5" x2="297.8" y2="255.5" stroke="#222" stroke-width="1" stroke-dasharray="3.8 2.2"/><path d="M268.59999999999997,323.0 L268.59999999999997,307.8 Q270.4,305.3 272.2,307.8 L272.2,323.0 L273.79999999999995,325.0 Q273.79999999999995,326.8 270.4,326.8 Q267.0,326.8 267.0,325.0 Z" fill="#fff" stroke="#222" stroke-width="0.85" stroke-linejoin="round"/><path d="M268.59999999999997,309.6 L272.2,308.8 L268.59999999999997,310.4 M268.59999999999997,311.2 L272.2,310.4 L268.59999999999997,312.0 M268.59999999999997,312.8 L272.2,312.0 L268.59999999999997,313.6 M268.59999999999997,314.4 L272.2,313.6 L268.59999999999997,315.2 M268.59999999999997,316.0 L272.2,315.2 L268.59999999999997,316.8 M268.59999999999997,317.6 L272.2,316.8 L268.59999999999997,318.4 M268.59999999999997,319.2 L272.2,318.4 L268.59999999999997,320.0 M268.59999999999997,320.8 L272.2,320.0 L268.59999999999997,321.6 M268.59999999999997,322.4 L272.2,321.6 L268.59999999999997,323.2" stroke="#222" stroke-width="0.6" fill="none"/><path d="M267.79999999999995,324.8 Q270.4,323.8 273.0,324.8" stroke="#222" stroke-width="0.6" fill="none"/><path d="M323.5,322.6 L323.5,308.3 Q325.3,305.8 327.1,308.3 L327.1,322.6 L328.7,324.6 Q328.7,326.40000000000003 325.3,326.40000000000003 Q321.90000000000003,326.40000000000003 321.90000000000003,324.6 Z" fill="#fff" stroke="#222" stroke-width="0.85" stroke-linejoin="round"/><path d="M323.5,310.1 L327.1,309.3 L323.5,310.9 M323.5,311.7 L327.1,310.9 L323.5,312.5 M323.5,313.3 L327.1,312.5 L323.5,314.1 M323.5,314.9 L327.1,314.1 L323.5,315.7 M323.5,316.5 L327.1,315.7 L323.5,317.3 M323.5,318.1 L327.1,317.3 L323.5,318.9 M323.5,319.7 L327.1,318.9 L323.5,320.5 M323.5,321.3 L327.1,320.5 L323.5,322.1" stroke="#222" stroke-width="0.6" fill="none"/><path d="M322.7,324.40000000000003 Q325.3,323.40000000000003 327.90000000000003,324.40000000000003" stroke="#222" stroke-width="0.6" fill="none"/><circle cx="250" cy="313.9" r="6.6" fill="#fff" stroke="#222" stroke-width="1"/><path d="M244.39,317.53 A6.6,6.6 0 0 0 255.61,317.53" fill="none" stroke="#222" stroke-width="1.6"/><circle cx="349.3" cy="310.2" r="6.4" fill="#fff" stroke="#222" stroke-width="1"/><path d="M343.86,313.71999999999997 A6.4,6.4 0 0 0 354.74,313.71999999999997" fill="none" stroke="#222" stroke-width="1.6"/><circle cx="229.6" cy="395.3" r="6.3" fill="#fff" stroke="#1e1e1e" stroke-width="1.1"/><circle cx="362.4" cy="391.7" r="6.3" fill="#fff" stroke="#1e1e1e" stroke-width="1.1"/><line x1="250.2" y1="289.5" x2="250.2" y2="314" stroke="#222" stroke-width="1" stroke-dasharray="3.8 2.2"/><line x1="350" y1="276" x2="350" y2="310.5" stroke="#222" stroke-width="1" stroke-dasharray="3.8 2.2"/><line x1="229.6" y1="361" x2="229.6" y2="395.5" stroke="#222" stroke-width="1" stroke-dasharray="3.8 2.2"/><line x1="363" y1="358" x2="363" y2="392.5" stroke="#222" stroke-width="1" stroke-dasharray="3.8 2.2"/><text transform="translate(247.9,336.5) scale(0.92,1)" font-size="15.9" text-anchor="middle" fill="#111" stroke="#111" stroke-width="0.35">B</text><text transform="translate(283.05,324.6) scale(0.92,1)" font-size="15.9" text-anchor="middle" fill="#111" stroke="#111" stroke-width="0.35">A</text><text transform="translate(317.6,338.4) scale(0.92,1)" font-size="15.9" text-anchor="middle" fill="#111" stroke="#111" stroke-width="0.35">A</text><text transform="translate(349.8,332.6) scale(0.92,1)" font-size="15.9" text-anchor="middle" fill="#111" stroke="#111" stroke-width="0.35">B</text><text transform="translate(230.2,418.8) scale(0.92,1)" font-size="15.9" text-anchor="middle" fill="#111" stroke="#111" stroke-width="0.35">B</text><text transform="translate(364.1,414) scale(0.92,1)" font-size="15.9" text-anchor="middle" fill="#111" stroke="#111" stroke-width="0.35">B</text><circle cx="378.7" cy="341" r="10" fill="#fff" stroke="#555" stroke-width="0.9"/><text x="378.7" y="347.44" font-size="18" text-anchor="middle" fill="#111">1</text><rect x="374.19" y="344.33" width="3.91" height="3.91" fill="#fff"/><rect x="379.83" y="344.33" width="3.73" height="3.91" fill="#fff"/><path d="M259.5,236 L259.5,240.6 A11,6.8 0 0 0 281.5,240.6 L281.5,236 Z" fill="#fff" stroke="#1e1e1e" stroke-width="1.1"/><ellipse cx="270.5" cy="236" rx="11" ry="6.8" fill="#fff" stroke="#1e1e1e" stroke-width="1.1" /><ellipse cx="271.2" cy="235.6" rx="1.6" ry="1.1" fill="#fff" stroke="#1e1e1e" stroke-width="0.9900000000000001" /><path d="M313.2,229 L313.2,234.2 A11.5,6.8 0 0 0 336.2,234.2 L336.2,229 Z" fill="#fff" stroke="#1e1e1e" stroke-width="1.1"/><ellipse cx="324.7" cy="229" rx="11.5" ry="6.8" fill="#fff" stroke="#1e1e1e" stroke-width="1.1" /><ellipse cx="325.3" cy="229" rx="1.6" ry="1.1" fill="#fff" stroke="#1e1e1e" stroke-width="0.9900000000000001" /><path d="M252.90000000000003,204.4 L252.90000000000003,211.6 A19.2,10.6 0 0 0 291.3,211.6 L291.3,204.4 Z" fill="#fff" stroke="#1e1e1e" stroke-width="1.1"/><ellipse cx="272.1" cy="204.4" rx="19.2" ry="10.6" fill="#fff" stroke="#1e1e1e" stroke-width="1.1" /><ellipse cx="271.2" cy="204.6" rx="5.7" ry="3.4" fill="#fff" stroke="#1e1e1e" stroke-width="0.9900000000000001" /><ellipse cx="271.2" cy="204.6" rx="3.2" ry="1.9" fill="#fff" stroke="#1e1e1e" stroke-width="0.9900000000000001" /><path d="M308.1,198 L308.1,205.5 A18.9,11 0 0 0 345.9,205.5 L345.9,198 Z" fill="#fff" stroke="#1e1e1e" stroke-width="1.1"/><ellipse cx="327" cy="198" rx="18.9" ry="11" fill="#fff" stroke="#1e1e1e" stroke-width="1.1" /><ellipse cx="324.8" cy="198.5" rx="5.7" ry="3.4" fill="#fff" stroke="#1e1e1e" stroke-width="0.9900000000000001" /><ellipse cx="324.8" cy="198.5" rx="3.2" ry="1.9" fill="#fff" stroke="#1e1e1e" stroke-width="0.9900000000000001" /><line x1="271.1" y1="208.4" x2="271.1" y2="305.5" stroke="#222" stroke-width="1" stroke-dasharray="3.8 2.2"/><line x1="325.2" y1="202.3" x2="325.2" y2="306" stroke="#222" stroke-width="1" stroke-dasharray="3.8 2.2"/><circle cx="273.6" cy="185.3" r="9" fill="#fff" stroke="#555" stroke-width="0.9"/><text x="273.6" y="191.74" font-size="18" text-anchor="middle" fill="#111">2</text><circle cx="328" cy="179.8" r="9.6" fill="#fff" stroke="#555" stroke-width="0.9"/><text x="328" y="186.24" font-size="18" text-anchor="middle" fill="#111">2</text><circle cx="247.3" cy="235.1" r="9" fill="#fff" stroke="#555" stroke-width="0.9"/><text x="247.3" y="241.54" font-size="18" text-anchor="middle" fill="#111">5</text><circle cx="354.7" cy="232.5" r="9.8" fill="#fff" stroke="#555" stroke-width="0.9"/><text x="354.7" y="238.94" font-size="18" text-anchor="middle" fill="#111">5</text><path d="M227.6,109.8 C228,109.43 228.6,108.03 230,107.6 C231.4,107.17 233.73,107.28 236,107.2 C238.27,107.12 241.35,107.45 243.6,107.1 C245.85,106.75 247.23,105.43 249.5,105.1 C251.77,104.77 254.28,104.18 257.2,105.1 C260.12,106.02 264.08,108.07 267,110.6 C269.92,113.13 272.43,117.07 274.7,120.3 C276.97,123.53 278.97,126.43 280.6,130 C282.23,133.57 283.22,136.83 284.5,141.7 C285.78,146.57 287.17,153.37 288.3,159.2 C289.43,165.03 290.48,170.73 291.3,176.7 C292.12,182.67 292.37,188.43 293.2,195 C294.03,201.57 295.52,211.42 296.3,216.1 C297.08,220.78 297.63,221.93 297.9,223.1" fill="none" stroke="#222" stroke-width="1"/><rect x="296.3" y="223.1" width="3.2" height="4" fill="#fff" stroke="#333" stroke-width="0.8"/><path d="M222.6,113.2 C222.39999999999998,109.60000000000001 228.0,109.60000000000001 227.79999999999998,113.2 C227.39999999999998,117.2 226.8,121.2 226.6,125.2 C226.4,126.8 224.4,126.8 224.20000000000002,125.2 C224.0,121.2 223.0,117.2 222.6,113.2 Z" fill="#fff" stroke="#333" stroke-width="0.8"/><line x1="225.4" y1="126.2" x2="217.6" y2="156.8" stroke="#333" stroke-width="0.7"/><line x1="217.6" y1="156.8" x2="215.3" y2="161.4" stroke="#333" stroke-width="4" stroke-linecap="round"/><line x1="217.6" y1="156.8" x2="215.3" y2="161.4" stroke="#fff" stroke-width="2.3" stroke-linecap="round"/><path d="M214.3,161.4 L206.7,176.4 Q211.14999999999998,179.6 215.6,178.4 L216.3,161.9 Z" fill="#b4b4b4" stroke="#888" stroke-width="0.5"/><path d="M215.3,161.70000000000002 L208.2,178.2 M215.3,161.70000000000002 L209.7,178.6 M215.3,161.70000000000002 L211.1,178.9 M215.3,161.70000000000002 L212.6,179.2 M215.3,161.70000000000002 L214.1,179.6" stroke="#666" stroke-width="0.5" fill="none"/><circle cx="291.1" cy="132.4" r="9.9" fill="#fff" stroke="#555" stroke-width="0.9"/><text x="291.1" y="138.84" font-size="18" text-anchor="middle" fill="#111">4</text><circle cx="231" cy="152.5" r="9.5" fill="#fff" stroke="#555" stroke-width="0.9"/><text x="231" y="158.94" font-size="18" text-anchor="middle" fill="#111">6</text>
<path d="M471,386.6 C470.57,386.27 469.23,386.03 468.4,384.6 C467.57,383.17 466.7,380.93 466,378 C465.3,375.07 464.77,370.83 464.2,367 C463.63,363.17 462.87,359.63 462.6,355 C462.33,350.37 462.17,344.7 462.6,339.2 C463.03,333.7 464.03,326.45 465.2,322 C466.37,317.55 468.1,315.07 469.6,312.5 C471.1,309.93 472.47,308.25 474.2,306.6 C475.93,304.95 478.13,303.8 480,302.6 C481.87,301.4 484.1,300.57 485.4,299.4 C486.7,298.23 486.93,297.23 487.8,295.6 C488.67,293.97 489.4,291.93 490.6,289.6 C491.8,287.27 493.58,284.07 495,281.6 C496.42,279.13 497.73,276.85 499.1,274.8 C500.47,272.75 501.98,270.77 503.2,269.3 C504.42,267.83 505.87,266.55 506.4,266 C506.27,265.5 505.92,264.72 505.6,263 C505.28,261.28 504.78,258.05 504.5,255.7 C504.22,253.35 504,250.03 503.9,248.9 C504.97,249.02 507.25,249.37 510.3,249.6 C513.35,249.83 518.85,250.2 522.2,250.3 C525.55,250.4 528.1,250.43 530.4,250.2 C532.7,249.97 533.5,249.4 536,248.9 C538.5,248.4 542.47,247.63 545.4,247.2 C548.33,246.77 550.33,246.43 553.6,246.3 C556.87,246.17 562.27,246.18 565,246.4 C567.73,246.62 567.13,246.97 570,247.6 C572.87,248.23 578.35,249.87 582.2,250.2 C586.05,250.53 589.92,249.92 593.1,249.6 C596.28,249.28 598.92,248.53 601.3,248.3 C603.68,248.07 606.38,248.22 607.4,248.2 C607.52,248.77 608.1,249.9 608.1,251.6 C608.1,253.3 607.73,256.13 607.4,258.4 C607.07,260.67 606.32,264.07 606.1,265.2 C606.67,265.88 608.03,267.25 609.5,269.3 C610.97,271.35 613.32,274.77 614.9,277.5 C616.48,280.23 617.75,282.98 619,285.7 C620.25,288.42 621.53,291.75 622.4,293.8 C623.27,295.85 623.43,296.8 624.2,298 C624.97,299.2 625.42,300.13 627,301 C628.58,301.87 631.33,301.73 633.7,303.2 C636.07,304.67 639.12,307.08 641.2,309.8 C643.28,312.52 645.03,315.85 646.2,319.5 C647.37,323.15 647.8,326.78 648.2,331.7 C648.6,336.62 648.78,343.2 648.6,349 C648.42,354.8 647.72,361.82 647.1,366.5 C646.48,371.18 645.57,374.67 644.9,377.1 C644.23,379.53 643.77,380.05 643.1,381.1 C642.43,382.15 641.27,383.02 640.9,383.4 C640.02,383.53 637.07,384.37 635.6,384.2 C634.13,384.03 633.42,383.43 632.1,382.4 C630.78,381.37 629.17,379.7 627.7,378 C626.23,376.3 624.03,373.17 623.3,372.2 C622.57,373.02 620.67,375.4 618.9,377.1 C617.13,378.8 615.22,380.48 612.7,382.4 C610.18,384.32 605.8,386.95 603.8,388.6 C601.8,390.25 601.22,391.68 600.7,392.3 C600.72,393.58 600.72,397.35 600.8,400 C600.88,402.65 601.35,406.28 601.2,408.2 C601.05,410.12 600.73,410.63 599.9,411.5 C599.07,412.37 597.42,413.1 596.2,413.4 C594.98,413.7 593.7,413.62 592.6,413.3 C591.5,412.98 590.72,411.48 589.6,411.5 C588.48,411.52 587.25,413.13 585.9,413.4 C584.55,413.67 582.85,413.32 581.5,413.1 C580.15,412.88 579.03,412 577.8,412.1 C576.57,412.2 575.32,413.3 574.1,413.7 C572.88,414.1 571.72,414.62 570.5,414.5 C569.28,414.38 567.88,413.75 566.8,413 C565.72,412.25 564.6,411.13 564,410 C563.4,408.87 563.5,407.3 563.2,406.2 C562.9,405.1 562.73,403.93 562.2,403.4 C561.67,402.87 561.2,403.08 560,403 C558.8,402.92 556.68,402.87 555,402.9 C553.32,402.93 551,402.87 549.9,403.2 C548.8,403.53 548.83,403.78 548.4,404.9 C547.97,406.02 547.9,408.45 547.3,409.9 C546.7,411.35 545.97,412.7 544.8,413.6 C543.63,414.5 541.65,415.18 540.3,415.3 C538.95,415.42 537.87,414.83 536.7,414.3 C535.53,413.77 534.28,412.22 533.3,412.1 C532.32,411.98 531.83,413.12 530.8,413.6 C529.77,414.08 528.33,415.25 527.1,415 C525.87,414.75 524.5,412.77 523.4,412.1 C522.3,411.43 521.73,410.75 520.5,411 C519.27,411.25 517.35,413.33 516,413.6 C514.65,413.87 513.3,413.47 512.4,412.6 C511.5,411.73 510.92,411.12 510.6,408.4 C510.28,405.68 510.52,398.32 510.5,396.3 C509.45,395.17 506.73,391.82 504.2,389.5 C501.67,387.18 497.8,384.77 495.3,382.4 C492.8,380.03 490.82,377.15 489.2,375.3 C487.58,373.45 486.2,371.97 485.6,371.3 C485.17,372.12 484.03,374.2 483,376.2 C481.97,378.2 480.58,381.47 479.4,383.3 C478.22,385.13 477.3,386.65 475.9,387.2 C474.5,387.75 471.82,386.7 471,386.6 Z" fill="#fff" stroke="#1e1e1e" stroke-width="1.15" stroke-linejoin="round"/><path d="M471,386.6 C471.58,385.77 473.38,383.33 474.5,381.6 C475.62,379.87 476.58,378.08 477.7,376.2 C478.82,374.32 479.88,372.07 481.2,370.3 C482.52,368.53 484.87,366.38 485.6,365.6 C486.33,366.63 488.08,369.45 490,371.8 C491.92,374.15 494.3,377.05 497.1,379.7 C499.9,382.35 504,385.38 506.8,387.7 C509.6,390.02 512.72,392.62 513.9,393.6 C513.87,394.23 513.77,395.27 513.7,397.4 C513.63,399.53 513.23,404.43 513.5,406.4 C513.77,408.37 514.5,408.75 515.3,409.2 C516.1,409.65 517.25,409.42 518.3,409.1 C519.35,408.78 520.5,407.17 521.6,407.3 C522.7,407.43 523.73,409.25 524.9,409.9 C526.07,410.55 527.32,411.52 528.6,411.2 C529.88,410.88 531.38,408.22 532.6,408 C533.82,407.78 534.5,409.37 535.9,409.9 C537.3,410.43 539.7,411.33 541,411.2 C542.3,411.07 543.02,410.55 543.7,409.1 C544.38,407.65 544.55,404.08 545.1,402.5 C545.65,400.92 546.25,400.15 547,399.6 C547.75,399.05 548.27,399.27 549.6,399.2 C550.93,399.13 552.67,399.18 555,399.2 C557.33,399.22 561.83,399.03 563.6,399.3 C565.37,399.57 565.23,399.87 565.6,400.8 C565.97,401.73 565.67,403.82 565.8,404.9 C565.93,405.98 565.75,406.45 566.4,407.3 C567.05,408.15 568.53,409.6 569.7,410 C570.87,410.4 572.1,410.18 573.4,409.7 C574.7,409.22 576.15,407.1 577.5,407.1 C578.85,407.1 580.22,409.22 581.5,409.7 C582.78,410.18 583.85,410.55 585.2,410 C586.55,409.45 588.25,406.52 589.6,406.4 C590.95,406.28 592.2,408.73 593.3,409.3 C594.4,409.87 595.47,410.08 596.2,409.8 C596.93,409.52 597.45,409.52 597.7,407.6 C597.95,405.68 597.77,401.07 597.7,398.3 C597.63,395.53 597.37,392.22 597.3,391 C598.38,390 601.23,387.17 603.8,385 C606.37,382.83 610.05,380.35 612.7,378 C615.35,375.65 617.93,372.82 619.7,370.9 C621.47,368.98 622.7,367.23 623.3,366.5 C624.03,367.53 626.23,370.93 627.7,372.7 C629.17,374.47 630.63,375.93 632.1,377.1 C633.57,378.27 635.03,378.65 636.5,379.7 C637.97,380.75 640.17,382.78 640.9,383.4" fill="none" stroke="#1e1e1e" stroke-width="1.15" stroke-linejoin="round"/><path d="M489,308.0 Q489,306.2 490.8,306.2 L617.2,303.5 Q619,303.5 619,305.3 C620.2,350.5 603,389.6 554,389.6 C505,389.6 487.8,353.2 489,308.0 Z" fill="#fff" stroke="#1e1e1e" stroke-width="1.15"/><g fill="#222"><circle cx="510.0" cy="317.0" r="0.71" fill-opacity="0.75"/><circle cx="598.0" cy="317.0" r="0.71" fill-opacity="0.75"/><circle cx="542.4" cy="312.1" r="0.70" fill-opacity="1.0"/><circle cx="565.6" cy="312.1" r="0.70" fill-opacity="1.0"/><circle cx="503.0" cy="311.4" r="0.65" fill-opacity="0.75"/><circle cx="605.0" cy="311.4" r="0.65" fill-opacity="0.75"/><circle cx="494.9" cy="340.5" r="0.76" fill-opacity="0.75"/><circle cx="613.1" cy="340.5" r="0.76" fill-opacity="0.75"/><circle cx="550.6" cy="358.2" r="0.70" fill-opacity="0.75"/><circle cx="557.4" cy="358.2" r="0.70" fill-opacity="0.75"/><circle cx="526.5" cy="338.1" r="0.79" fill-opacity="0.75"/><circle cx="581.5" cy="338.1" r="0.79" fill-opacity="0.75"/><circle cx="525.2" cy="315.5" r="0.65" fill-opacity="1.0"/><circle cx="582.8" cy="315.5" r="0.65" fill-opacity="1.0"/><circle cx="496.7" cy="330.5" r="0.75" fill-opacity="0.75"/><circle cx="611.3" cy="330.5" r="0.75" fill-opacity="0.75"/><circle cx="495.7" cy="353.1" r="0.60" fill-opacity="0.75"/><circle cx="612.3" cy="353.1" r="0.60" fill-opacity="0.75"/><circle cx="524.6" cy="309.4" r="0.56" fill-opacity="0.75"/><circle cx="583.4" cy="309.4" r="0.56" fill-opacity="0.75"/><circle cx="521.3" cy="349.7" r="0.74" fill-opacity="0.9"/><circle cx="586.7" cy="349.7" r="0.74" fill-opacity="0.9"/><circle cx="527.1" cy="343.0" r="0.62" fill-opacity="0.75"/><circle cx="580.9" cy="343.0" r="0.62" fill-opacity="0.75"/><circle cx="534.4" cy="325.0" r="0.69" fill-opacity="1.0"/><circle cx="573.6" cy="325.0" r="0.69" fill-opacity="1.0"/><circle cx="521.2" cy="333.5" r="0.66" fill-opacity="1.0"/><circle cx="586.8" cy="333.5" r="0.66" fill-opacity="1.0"/><circle cx="552.7" cy="314.2" r="0.65" fill-opacity="0.9"/><circle cx="555.3" cy="314.2" r="0.65" fill-opacity="0.9"/><circle cx="498.9" cy="346.1" r="0.56" fill-opacity="1.0"/><circle cx="609.1" cy="346.1" r="0.56" fill-opacity="1.0"/><circle cx="540.3" cy="374.4" r="0.64" fill-opacity="0.9"/><circle cx="567.7" cy="374.4" r="0.64" fill-opacity="0.9"/><circle cx="527.6" cy="353.9" r="0.66" fill-opacity="0.75"/><circle cx="580.4" cy="353.9" r="0.66" fill-opacity="0.75"/><circle cx="550.4" cy="344.8" r="0.72" fill-opacity="0.75"/><circle cx="557.6" cy="344.8" r="0.72" fill-opacity="0.75"/><circle cx="536.5" cy="330.6" r="0.69" fill-opacity="1.0"/><circle cx="571.5" cy="330.6" r="0.69" fill-opacity="1.0"/><circle cx="542.4" cy="328.5" r="0.65" fill-opacity="1.0"/><circle cx="565.6" cy="328.5" r="0.65" fill-opacity="1.0"/><circle cx="512.1" cy="356.5" r="0.67" fill-opacity="0.75"/><circle cx="595.9" cy="356.5" r="0.67" fill-opacity="0.75"/><circle cx="538.9" cy="315.1" r="0.61" fill-opacity="0.9"/><circle cx="569.1" cy="315.1" r="0.61" fill-opacity="0.9"/><circle cx="548.6" cy="346.7" r="0.59" fill-opacity="0.9"/><circle cx="559.4" cy="346.7" r="0.59" fill-opacity="0.9"/><circle cx="524.7" cy="380.0" r="0.75" fill-opacity="1.0"/><circle cx="583.3" cy="380.0" r="0.75" fill-opacity="1.0"/><circle cx="507.1" cy="339.7" r="0.64" fill-opacity="0.9"/><circle cx="600.9" cy="339.7" r="0.64" fill-opacity="0.9"/><circle cx="551.3" cy="317.0" r="0.59" fill-opacity="0.75"/><circle cx="556.7" cy="317.0" r="0.59" fill-opacity="0.75"/><circle cx="543.0" cy="319.7" r="0.62" fill-opacity="0.75"/><circle cx="565.0" cy="319.7" r="0.62" fill-opacity="0.75"/><circle cx="516.2" cy="335.8" r="0.69" fill-opacity="0.75"/><circle cx="591.8" cy="335.8" r="0.69" fill-opacity="0.75"/><circle cx="533.9" cy="348.3" r="0.70" fill-opacity="1.0"/><circle cx="574.1" cy="348.3" r="0.70" fill-opacity="1.0"/><circle cx="537.1" cy="343.3" r="0.77" fill-opacity="1.0"/><circle cx="570.9" cy="343.3" r="0.77" fill-opacity="1.0"/><circle cx="540.9" cy="337.7" r="0.65" fill-opacity="0.75"/><circle cx="567.1" cy="337.7" r="0.65" fill-opacity="0.75"/><circle cx="520.3" cy="338.4" r="0.60" fill-opacity="0.75"/><circle cx="587.7" cy="338.4" r="0.60" fill-opacity="0.75"/><circle cx="517.6" cy="313.5" r="0.70" fill-opacity="0.75"/><circle cx="590.4" cy="313.5" r="0.70" fill-opacity="0.75"/><circle cx="495.6" cy="335.3" r="0.56" fill-opacity="0.75"/><circle cx="612.4" cy="335.3" r="0.56" fill-opacity="0.75"/><circle cx="528.9" cy="316.8" r="0.61" fill-opacity="0.9"/><circle cx="579.1" cy="316.8" r="0.61" fill-opacity="0.9"/><circle cx="528.1" cy="344.8" r="0.58" fill-opacity="0.9"/><circle cx="579.9" cy="344.8" r="0.58" fill-opacity="0.9"/><circle cx="553.6" cy="344.1" r="0.67" fill-opacity="0.75"/><circle cx="554.4" cy="344.1" r="0.67" fill-opacity="0.75"/><circle cx="537.1" cy="345.2" r="0.72" fill-opacity="1.0"/><circle cx="570.9" cy="345.2" r="0.72" fill-opacity="1.0"/><circle cx="523.3" cy="316.6" r="0.69" fill-opacity="0.75"/><circle cx="584.7" cy="316.6" r="0.69" fill-opacity="0.75"/><circle cx="538.3" cy="329.6" r="0.71" fill-opacity="0.75"/><circle cx="569.7" cy="329.6" r="0.71" fill-opacity="0.75"/><circle cx="534.3" cy="326.5" r="0.64" fill-opacity="0.75"/><circle cx="573.7" cy="326.5" r="0.64" fill-opacity="0.75"/><circle cx="512.1" cy="323.2" r="0.69" fill-opacity="1.0"/><circle cx="595.9" cy="323.2" r="0.69" fill-opacity="1.0"/><circle cx="510.4" cy="323.2" r="0.75" fill-opacity="0.75"/><circle cx="597.6" cy="323.2" r="0.75" fill-opacity="0.75"/><circle cx="541.4" cy="374.4" r="0.73" fill-opacity="0.75"/><circle cx="566.6" cy="374.4" r="0.73" fill-opacity="0.75"/><circle cx="502.0" cy="346.4" r="0.73" fill-opacity="0.75"/><circle cx="606.0" cy="346.4" r="0.73" fill-opacity="0.75"/><circle cx="540.4" cy="344.6" r="0.60" fill-opacity="1.0"/><circle cx="567.6" cy="344.6" r="0.60" fill-opacity="1.0"/><circle cx="551.2" cy="342.5" r="0.78" fill-opacity="0.9"/><circle cx="556.8" cy="342.5" r="0.78" fill-opacity="0.9"/><circle cx="551.1" cy="335.4" r="0.61" fill-opacity="0.75"/><circle cx="556.9" cy="335.4" r="0.61" fill-opacity="0.75"/><circle cx="519.6" cy="333.0" r="0.67" fill-opacity="1.0"/><circle cx="588.4" cy="333.0" r="0.67" fill-opacity="1.0"/><circle cx="543.6" cy="345.2" r="0.71" fill-opacity="1.0"/><circle cx="564.4" cy="345.2" r="0.71" fill-opacity="1.0"/><circle cx="548.1" cy="371.3" r="0.74" fill-opacity="0.9"/><circle cx="559.9" cy="371.3" r="0.74" fill-opacity="0.9"/><circle cx="546.8" cy="341.3" r="0.71" fill-opacity="0.75"/><circle cx="561.2" cy="341.3" r="0.71" fill-opacity="0.75"/><circle cx="541.1" cy="387.6" r="0.65" fill-opacity="0.9"/><circle cx="566.9" cy="387.6" r="0.65" fill-opacity="0.9"/><circle cx="537.3" cy="311.3" r="0.59" fill-opacity="0.75"/><circle cx="570.7" cy="311.3" r="0.59" fill-opacity="0.75"/><circle cx="519.2" cy="360.4" r="0.70" fill-opacity="1.0"/><circle cx="588.8" cy="360.4" r="0.70" fill-opacity="1.0"/><circle cx="552.7" cy="360.5" r="0.64" fill-opacity="1.0"/><circle cx="555.3" cy="360.5" r="0.64" fill-opacity="1.0"/><circle cx="541.0" cy="366.5" r="0.58" fill-opacity="1.0"/><circle cx="567.0" cy="366.5" r="0.58" fill-opacity="1.0"/><circle cx="549.7" cy="341.3" r="0.77" fill-opacity="0.75"/><circle cx="558.3" cy="341.3" r="0.77" fill-opacity="0.75"/><circle cx="521.6" cy="369.7" r="0.63" fill-opacity="1.0"/><circle cx="586.4" cy="369.7" r="0.63" fill-opacity="1.0"/><circle cx="516.2" cy="315.3" r="0.78" fill-opacity="0.9"/><circle cx="591.8" cy="315.3" r="0.78" fill-opacity="0.9"/><circle cx="547.4" cy="361.0" r="0.75" fill-opacity="1.0"/><circle cx="560.6" cy="361.0" r="0.75" fill-opacity="1.0"/><circle cx="521.6" cy="349.7" r="0.68" fill-opacity="0.75"/><circle cx="586.4" cy="349.7" r="0.68" fill-opacity="0.75"/><circle cx="545.7" cy="370.8" r="0.70" fill-opacity="0.75"/><circle cx="562.3" cy="370.8" r="0.70" fill-opacity="0.75"/><circle cx="500.2" cy="344.7" r="0.73" fill-opacity="1.0"/><circle cx="607.8" cy="344.7" r="0.73" fill-opacity="1.0"/><circle cx="523.5" cy="345.5" r="0.74" fill-opacity="1.0"/><circle cx="584.5" cy="345.5" r="0.74" fill-opacity="1.0"/><circle cx="492.7" cy="320.5" r="0.56" fill-opacity="0.75"/><circle cx="615.3" cy="320.5" r="0.56" fill-opacity="0.75"/><circle cx="522.0" cy="352.3" r="0.74" fill-opacity="0.75"/><circle cx="586.0" cy="352.3" r="0.74" fill-opacity="0.75"/><circle cx="517.8" cy="356.7" r="0.68" fill-opacity="1.0"/><circle cx="590.2" cy="356.7" r="0.68" fill-opacity="1.0"/><circle cx="502.0" cy="327.8" r="0.68" fill-opacity="0.9"/><circle cx="606.0" cy="327.8" r="0.68" fill-opacity="0.9"/><circle cx="522.0" cy="325.3" r="0.68" fill-opacity="0.9"/><circle cx="586.0" cy="325.3" r="0.68" fill-opacity="0.9"/><circle cx="549.0" cy="380.8" r="0.60" fill-opacity="0.9"/><circle cx="559.0" cy="380.8" r="0.60" fill-opacity="0.9"/><circle cx="497.9" cy="314.5" r="0.66" fill-opacity="0.75"/><circle cx="610.1" cy="314.5" r="0.66" fill-opacity="0.75"/><circle cx="532.6" cy="340.8" r="0.60" fill-opacity="0.9"/><circle cx="575.4" cy="340.8" r="0.60" fill-opacity="0.9"/><circle cx="540.0" cy="381.1" r="0.59" fill-opacity="1.0"/><circle cx="568.0" cy="381.1" r="0.59" fill-opacity="1.0"/><circle cx="530.8" cy="335.5" r="0.61" fill-opacity="0.75"/><circle cx="577.2" cy="335.5" r="0.61" fill-opacity="0.75"/><circle cx="551.9" cy="322.9" r="0.79" fill-opacity="0.9"/><circle cx="556.1" cy="322.9" r="0.79" fill-opacity="0.9"/><circle cx="546.5" cy="318.0" r="0.72" fill-opacity="0.75"/><circle cx="561.5" cy="318.0" r="0.72" fill-opacity="0.75"/><circle cx="499.5" cy="341.1" r="0.68" fill-opacity="0.9"/><circle cx="608.5" cy="341.1" r="0.68" fill-opacity="0.9"/><circle cx="516.4" cy="334.7" r="0.57" fill-opacity="0.9"/><circle cx="591.6" cy="334.7" r="0.57" fill-opacity="0.9"/><circle cx="510.5" cy="357.7" r="0.68" fill-opacity="0.75"/><circle cx="597.5" cy="357.7" r="0.68" fill-opacity="0.75"/><circle cx="494.5" cy="327.4" r="0.78" fill-opacity="0.75"/><circle cx="613.5" cy="327.4" r="0.78" fill-opacity="0.75"/><circle cx="506.6" cy="315.1" r="0.66" fill-opacity="1.0"/><circle cx="601.4" cy="315.1" r="0.66" fill-opacity="1.0"/><circle cx="542.2" cy="326.2" r="0.59" fill-opacity="1.0"/><circle cx="565.8" cy="326.2" r="0.59" fill-opacity="1.0"/><circle cx="526.1" cy="364.2" r="0.57" fill-opacity="0.75"/><circle cx="581.9" cy="364.2" r="0.57" fill-opacity="0.75"/><circle cx="541.0" cy="319.8" r="0.77" fill-opacity="0.9"/><circle cx="567.0" cy="319.8" r="0.77" fill-opacity="0.9"/><circle cx="550.0" cy="358.6" r="0.75" fill-opacity="0.75"/><circle cx="558.0" cy="358.6" r="0.75" fill-opacity="0.75"/><circle cx="528.5" cy="323.1" r="0.62" fill-opacity="0.75"/><circle cx="579.5" cy="323.1" r="0.62" fill-opacity="0.75"/><circle cx="518.5" cy="333.2" r="0.69" fill-opacity="0.9"/><circle cx="589.5" cy="333.2" r="0.69" fill-opacity="0.9"/><circle cx="529.4" cy="307.7" r="0.73" fill-opacity="0.75"/><circle cx="578.6" cy="307.7" r="0.73" fill-opacity="0.75"/><circle cx="552.0" cy="326.5" r="0.60" fill-opacity="0.9"/><circle cx="556.0" cy="326.5" r="0.60" fill-opacity="0.9"/><circle cx="529.9" cy="349.7" r="0.60" fill-opacity="0.9"/><circle cx="578.1" cy="349.7" r="0.60" fill-opacity="0.9"/><circle cx="521.5" cy="319.3" r="0.64" fill-opacity="0.75"/><circle cx="586.5" cy="319.3" r="0.64" fill-opacity="0.75"/><circle cx="553.6" cy="307.2" r="0.55" fill-opacity="1.0"/><circle cx="554.4" cy="307.2" r="0.55" fill-opacity="1.0"/><circle cx="524.8" cy="320.3" r="0.67" fill-opacity="0.9"/><circle cx="583.2" cy="320.3" r="0.67" fill-opacity="0.9"/><circle cx="517.1" cy="346.6" r="0.76" fill-opacity="0.9"/><circle cx="590.9" cy="346.6" r="0.76" fill-opacity="0.9"/><circle cx="552.1" cy="330.5" r="0.60" fill-opacity="0.75"/><circle cx="555.9" cy="330.5" r="0.60" fill-opacity="0.75"/><circle cx="511.3" cy="375.6" r="0.73" fill-opacity="1.0"/><circle cx="596.7" cy="375.6" r="0.73" fill-opacity="1.0"/><circle cx="552.8" cy="376.0" r="0.55" fill-opacity="1.0"/><circle cx="555.2" cy="376.0" r="0.55" fill-opacity="1.0"/><circle cx="537.2" cy="326.0" r="0.59" fill-opacity="0.75"/><circle cx="570.8" cy="326.0" r="0.59" fill-opacity="0.75"/><circle cx="532.2" cy="336.8" r="0.68" fill-opacity="0.9"/><circle cx="575.8" cy="336.8" r="0.68" fill-opacity="0.9"/><circle cx="527.9" cy="363.6" r="0.56" fill-opacity="0.75"/><circle cx="580.1" cy="363.6" r="0.56" fill-opacity="0.75"/><circle cx="499.2" cy="342.3" r="0.62" fill-opacity="0.9"/><circle cx="608.8" cy="342.3" r="0.62" fill-opacity="0.9"/><circle cx="552.2" cy="351.0" r="0.61" fill-opacity="0.9"/><circle cx="555.8" cy="351.0" r="0.61" fill-opacity="0.9"/><circle cx="503.2" cy="319.7" r="0.63" fill-opacity="0.75"/><circle cx="604.8" cy="319.7" r="0.63" fill-opacity="0.75"/><circle cx="519.9" cy="347.2" r="0.60" fill-opacity="1.0"/><circle cx="588.1" cy="347.2" r="0.60" fill-opacity="1.0"/><circle cx="539.5" cy="311.8" r="0.75" fill-opacity="0.75"/><circle cx="568.5" cy="311.8" r="0.75" fill-opacity="0.75"/><circle cx="515.0" cy="307.6" r="0.56" fill-opacity="0.9"/><circle cx="593.0" cy="307.6" r="0.56" fill-opacity="0.9"/><circle cx="529.9" cy="311.3" r="0.79" fill-opacity="0.75"/><circle cx="578.1" cy="311.3" r="0.79" fill-opacity="0.75"/><circle cx="531.7" cy="365.6" r="0.77" fill-opacity="0.9"/><circle cx="576.3" cy="365.6" r="0.77" fill-opacity="0.9"/><circle cx="538.7" cy="366.0" r="0.67" fill-opacity="0.9"/><circle cx="569.3" cy="366.0" r="0.67" fill-opacity="0.9"/><circle cx="536.1" cy="359.3" r="0.56" fill-opacity="1.0"/><circle cx="571.9" cy="359.3" r="0.56" fill-opacity="1.0"/><circle cx="547.0" cy="358.0" r="0.73" fill-opacity="1.0"/><circle cx="561.0" cy="358.0" r="0.73" fill-opacity="1.0"/><circle cx="498.1" cy="349.0" r="0.68" fill-opacity="0.75"/><circle cx="609.9" cy="349.0" r="0.68" fill-opacity="0.75"/><circle cx="542.7" cy="354.2" r="0.77" fill-opacity="1.0"/><circle cx="565.3" cy="354.2" r="0.77" fill-opacity="1.0"/><circle cx="551.1" cy="359.3" r="0.57" fill-opacity="0.75"/><circle cx="556.9" cy="359.3" r="0.57" fill-opacity="0.75"/><circle cx="497.7" cy="335.0" r="0.58" fill-opacity="0.9"/><circle cx="610.3" cy="335.0" r="0.58" fill-opacity="0.9"/><circle cx="525.3" cy="358.0" r="0.71" fill-opacity="1.0"/><circle cx="582.7" cy="358.0" r="0.71" fill-opacity="1.0"/><circle cx="504.9" cy="326.7" r="0.66" fill-opacity="0.75"/><circle cx="603.1" cy="326.7" r="0.66" fill-opacity="0.75"/><circle cx="537.6" cy="347.3" r="0.68" fill-opacity="1.0"/><circle cx="570.4" cy="347.3" r="0.68" fill-opacity="1.0"/><circle cx="523.2" cy="368.1" r="0.67" fill-opacity="0.75"/><circle cx="584.8" cy="368.1" r="0.67" fill-opacity="0.75"/><circle cx="544.0" cy="324.2" r="0.74" fill-opacity="0.75"/><circle cx="564.0" cy="324.2" r="0.74" fill-opacity="0.75"/><circle cx="537.1" cy="387.9" r="0.67" fill-opacity="0.9"/><circle cx="570.9" cy="387.9" r="0.67" fill-opacity="0.9"/><circle cx="507.7" cy="308.0" r="0.71" fill-opacity="0.75"/><circle cx="600.3" cy="308.0" r="0.71" fill-opacity="0.75"/><circle cx="494.0" cy="316.7" r="0.61" fill-opacity="1.0"/><circle cx="614.0" cy="316.7" r="0.61" fill-opacity="1.0"/><circle cx="534.0" cy="357.4" r="0.58" fill-opacity="0.9"/><circle cx="574.0" cy="357.4" r="0.58" fill-opacity="0.9"/><circle cx="492.9" cy="327.1" r="0.72" fill-opacity="1.0"/><circle cx="615.1" cy="327.1" r="0.72" fill-opacity="1.0"/><circle cx="503.2" cy="346.1" r="0.73" fill-opacity="0.9"/><circle cx="604.8" cy="346.1" r="0.73" fill-opacity="0.9"/><circle cx="519.2" cy="344.1" r="0.58" fill-opacity="1.0"/><circle cx="588.8" cy="344.1" r="0.58" fill-opacity="1.0"/><circle cx="518.8" cy="374.5" r="0.79" fill-opacity="0.9"/><circle cx="589.2" cy="374.5" r="0.79" fill-opacity="0.9"/><circle cx="553.6" cy="337.3" r="0.78" fill-opacity="0.75"/><circle cx="554.4" cy="337.3" r="0.78" fill-opacity="0.75"/><circle cx="493.8" cy="311.8" r="0.74" fill-opacity="0.9"/><circle cx="614.2" cy="311.8" r="0.74" fill-opacity="0.9"/><circle cx="550.9" cy="315.4" r="0.76" fill-opacity="1.0"/><circle cx="557.1" cy="315.4" r="0.76" fill-opacity="1.0"/><circle cx="507.2" cy="313.7" r="0.64" fill-opacity="0.9"/><circle cx="600.8" cy="313.7" r="0.64" fill-opacity="0.9"/><circle cx="547.4" cy="345.8" r="0.56" fill-opacity="0.75"/><circle cx="560.6" cy="345.8" r="0.56" fill-opacity="0.75"/><circle cx="550.7" cy="362.6" r="0.65" fill-opacity="1.0"/><circle cx="557.3" cy="362.6" r="0.65" fill-opacity="1.0"/><circle cx="498.1" cy="333.6" r="0.63" fill-opacity="0.9"/><circle cx="609.9" cy="333.6" r="0.63" fill-opacity="0.9"/><circle cx="543.5" cy="314.3" r="0.78" fill-opacity="1.0"/><circle cx="564.5" cy="314.3" r="0.78" fill-opacity="1.0"/><circle cx="505.5" cy="309.6" r="0.65" fill-opacity="1.0"/><circle cx="602.5" cy="309.6" r="0.65" fill-opacity="1.0"/><circle cx="538.1" cy="377.5" r="0.62" fill-opacity="0.75"/><circle cx="569.9" cy="377.5" r="0.62" fill-opacity="0.75"/><circle cx="543.3" cy="328.6" r="0.78" fill-opacity="0.75"/><circle cx="564.7" cy="328.6" r="0.78" fill-opacity="0.75"/><circle cx="552.1" cy="341.5" r="0.63" fill-opacity="0.9"/><circle cx="555.9" cy="341.5" r="0.63" fill-opacity="0.9"/><circle cx="540.0" cy="340.8" r="0.56" fill-opacity="1.0"/><circle cx="568.0" cy="340.8" r="0.56" fill-opacity="1.0"/><circle cx="515.0" cy="379.3" r="0.69" fill-opacity="0.75"/><circle cx="593.0" cy="379.3" r="0.69" fill-opacity="0.75"/><circle cx="535.8" cy="308.3" r="0.73" fill-opacity="0.9"/><circle cx="572.2" cy="308.3" r="0.73" fill-opacity="0.9"/><circle cx="529.0" cy="315.9" r="0.77" fill-opacity="0.9"/><circle cx="579.0" cy="315.9" r="0.77" fill-opacity="0.9"/><circle cx="497.3" cy="344.6" r="0.64" fill-opacity="0.9"/><circle cx="610.7" cy="344.6" r="0.64" fill-opacity="0.9"/><circle cx="505.6" cy="367.5" r="0.71" fill-opacity="0.9"/><circle cx="602.4" cy="367.5" r="0.71" fill-opacity="0.9"/><circle cx="531.6" cy="329.9" r="0.69" fill-opacity="0.9"/><circle cx="576.4" cy="329.9" r="0.69" fill-opacity="0.9"/><circle cx="493.9" cy="347.1" r="0.75" fill-opacity="1.0"/><circle cx="614.1" cy="347.1" r="0.75" fill-opacity="1.0"/></g><g fill="#222"><circle cx="505.4" cy="364.6" r="0.42" fill-opacity="0.2"/><circle cx="594.5" cy="347.5" r="0.48" fill-opacity="0.2"/><circle cx="548.7" cy="343.0" r="0.50" fill-opacity="0.2"/><circle cx="605.7" cy="338.6" r="0.50" fill-opacity="0.2"/><circle cx="580.2" cy="348.7" r="0.49" fill-opacity="0.3"/><circle cx="583.4" cy="361.0" r="0.42" fill-opacity="0.2"/><circle cx="539.2" cy="375.3" r="0.42" fill-opacity="0.2"/><circle cx="533.0" cy="363.5" r="0.50" fill-opacity="0.4"/><circle cx="556.2" cy="321.9" r="0.56" fill-opacity="0.4"/><circle cx="552.5" cy="320.7" r="0.59" fill-opacity="0.4"/><circle cx="548.3" cy="354.3" r="0.49" fill-opacity="0.4"/><circle cx="535.4" cy="379.5" r="0.43" fill-opacity="0.4"/><circle cx="501.7" cy="363.4" r="0.54" fill-opacity="0.4"/><circle cx="598.7" cy="347.3" r="0.44" fill-opacity="0.2"/><circle cx="535.2" cy="328.5" r="0.53" fill-opacity="0.4"/><circle cx="607.7" cy="350.9" r="0.47" fill-opacity="0.2"/><circle cx="527.4" cy="322.9" r="0.41" fill-opacity="0.3"/><circle cx="538.0" cy="375.8" r="0.58" fill-opacity="0.2"/><circle cx="574.5" cy="314.0" r="0.59" fill-opacity="0.2"/><circle cx="515.2" cy="369.9" r="0.46" fill-opacity="0.2"/><circle cx="592.5" cy="336.7" r="0.57" fill-opacity="0.4"/><circle cx="545.6" cy="323.9" r="0.48" fill-opacity="0.3"/><circle cx="541.9" cy="310.9" r="0.41" fill-opacity="0.4"/><circle cx="501.4" cy="311.3" r="0.42" fill-opacity="0.4"/><circle cx="557.5" cy="317.2" r="0.59" fill-opacity="0.3"/><circle cx="507.3" cy="337.2" r="0.51" fill-opacity="0.4"/><circle cx="527.9" cy="332.0" r="0.47" fill-opacity="0.4"/><circle cx="597.6" cy="322.1" r="0.58" fill-opacity="0.2"/><circle cx="594.1" cy="374.2" r="0.43" fill-opacity="0.3"/><circle cx="615.1" cy="342.0" r="0.42" fill-opacity="0.4"/><circle cx="518.1" cy="373.8" r="0.56" fill-opacity="0.3"/><circle cx="504.9" cy="353.9" r="0.49" fill-opacity="0.2"/><circle cx="582.5" cy="348.2" r="0.42" fill-opacity="0.3"/><circle cx="562.3" cy="374.2" r="0.49" fill-opacity="0.2"/><circle cx="514.7" cy="342.4" r="0.42" fill-opacity="0.4"/><circle cx="606.9" cy="360.3" r="0.57" fill-opacity="0.4"/><circle cx="587.2" cy="347.2" r="0.54" fill-opacity="0.2"/><circle cx="554.2" cy="331.9" r="0.48" fill-opacity="0.4"/><circle cx="568.7" cy="382.2" r="0.55" fill-opacity="0.3"/><circle cx="518.1" cy="329.5" r="0.51" fill-opacity="0.4"/><circle cx="537.0" cy="385.0" r="0.57" fill-opacity="0.4"/><circle cx="528.3" cy="375.5" r="0.47" fill-opacity="0.3"/><circle cx="573.7" cy="313.4" r="0.50" fill-opacity="0.3"/><circle cx="529.6" cy="329.0" r="0.52" fill-opacity="0.4"/><circle cx="557.1" cy="363.4" r="0.47" fill-opacity="0.4"/><circle cx="567.6" cy="335.1" r="0.49" fill-opacity="0.3"/><circle cx="595.9" cy="347.6" r="0.42" fill-opacity="0.2"/><circle cx="524.2" cy="340.1" r="0.42" fill-opacity="0.3"/><circle cx="596.3" cy="327.1" r="0.60" fill-opacity="0.4"/><circle cx="542.5" cy="335.1" r="0.59" fill-opacity="0.4"/><circle cx="586.2" cy="325.5" r="0.56" fill-opacity="0.4"/><circle cx="557.3" cy="320.8" r="0.50" fill-opacity="0.2"/><circle cx="592.1" cy="337.4" r="0.53" fill-opacity="0.4"/><circle cx="591.2" cy="315.8" r="0.52" fill-opacity="0.4"/><circle cx="523.4" cy="312.2" r="0.49" fill-opacity="0.4"/><circle cx="501.1" cy="356.2" r="0.57" fill-opacity="0.4"/><circle cx="597.6" cy="311.2" r="0.43" fill-opacity="0.3"/><circle cx="519.0" cy="307.2" r="0.56" fill-opacity="0.2"/><circle cx="527.6" cy="334.7" r="0.47" fill-opacity="0.4"/><circle cx="568.2" cy="341.4" r="0.43" fill-opacity="0.3"/><circle cx="508.3" cy="366.6" r="0.41" fill-opacity="0.4"/><circle cx="517.9" cy="329.2" r="0.44" fill-opacity="0.4"/><circle cx="512.1" cy="318.7" r="0.53" fill-opacity="0.3"/><circle cx="603.6" cy="367.3" r="0.50" fill-opacity="0.4"/><circle cx="582.4" cy="311.1" r="0.43" fill-opacity="0.4"/><circle cx="506.2" cy="332.1" r="0.48" fill-opacity="0.2"/><circle cx="506.6" cy="341.9" r="0.54" fill-opacity="0.3"/><circle cx="565.1" cy="356.8" r="0.48" fill-opacity="0.3"/><circle cx="564.2" cy="381.1" r="0.58" fill-opacity="0.4"/><circle cx="562.3" cy="365.1" r="0.57" fill-opacity="0.4"/><circle cx="598.7" cy="349.4" r="0.46" fill-opacity="0.4"/><circle cx="598.1" cy="327.8" r="0.53" fill-opacity="0.4"/><circle cx="558.4" cy="384.6" r="0.46" fill-opacity="0.2"/><circle cx="562.9" cy="337.6" r="0.43" fill-opacity="0.3"/><circle cx="573.2" cy="314.7" r="0.48" fill-opacity="0.2"/><circle cx="602.0" cy="347.6" r="0.46" fill-opacity="0.3"/><circle cx="579.9" cy="357.4" r="0.43" fill-opacity="0.4"/><circle cx="547.4" cy="385.5" r="0.55" fill-opacity="0.3"/><circle cx="562.3" cy="353.8" r="0.58" fill-opacity="0.3"/><circle cx="567.2" cy="360.4" r="0.60" fill-opacity="0.3"/><circle cx="502.8" cy="331.5" r="0.42" fill-opacity="0.2"/><circle cx="573.0" cy="345.0" r="0.52" fill-opacity="0.3"/><circle cx="586.9" cy="340.9" r="0.55" fill-opacity="0.4"/><circle cx="494.0" cy="316.1" r="0.54" fill-opacity="0.4"/><circle cx="529.7" cy="306.8" r="0.45" fill-opacity="0.3"/><circle cx="551.9" cy="344.9" r="0.43" fill-opacity="0.2"/><circle cx="573.1" cy="371.6" r="0.56" fill-opacity="0.4"/><circle cx="526.4" cy="362.9" r="0.49" fill-opacity="0.3"/><circle cx="526.6" cy="378.0" r="0.49" fill-opacity="0.4"/><circle cx="546.0" cy="315.7" r="0.59" fill-opacity="0.2"/><circle cx="536.0" cy="355.6" r="0.49" fill-opacity="0.3"/><circle cx="563.5" cy="321.5" r="0.50" fill-opacity="0.4"/><circle cx="511.6" cy="316.6" r="0.56" fill-opacity="0.2"/><circle cx="560.3" cy="361.2" r="0.46" fill-opacity="0.2"/><circle cx="571.7" cy="325.8" r="0.58" fill-opacity="0.2"/><circle cx="613.3" cy="305.2" r="0.49" fill-opacity="0.2"/><circle cx="530.1" cy="306.4" r="0.40" fill-opacity="0.2"/><circle cx="584.9" cy="353.5" r="0.53" fill-opacity="0.2"/><circle cx="494.7" cy="322.4" r="0.46" fill-opacity="0.2"/><circle cx="542.9" cy="382.4" r="0.40" fill-opacity="0.4"/><circle cx="501.5" cy="347.9" r="0.50" fill-opacity="0.4"/><circle cx="595.5" cy="340.3" r="0.42" fill-opacity="0.4"/><circle cx="508.2" cy="316.5" r="0.54" fill-opacity="0.4"/><circle cx="580.7" cy="384.5" r="0.49" fill-opacity="0.2"/><circle cx="521.9" cy="363.7" r="0.44" fill-opacity="0.2"/><circle cx="526.0" cy="370.2" r="0.46" fill-opacity="0.2"/><circle cx="518.3" cy="338.1" r="0.54" fill-opacity="0.3"/><circle cx="529.0" cy="327.8" r="0.40" fill-opacity="0.2"/><circle cx="580.4" cy="363.8" r="0.44" fill-opacity="0.2"/><circle cx="594.0" cy="360.4" r="0.57" fill-opacity="0.3"/><circle cx="509.3" cy="374.9" r="0.45" fill-opacity="0.2"/><circle cx="545.5" cy="380.8" r="0.56" fill-opacity="0.4"/><circle cx="577.9" cy="382.2" r="0.57" fill-opacity="0.3"/><circle cx="569.3" cy="357.0" r="0.49" fill-opacity="0.2"/><circle cx="556.4" cy="333.0" r="0.59" fill-opacity="0.4"/><circle cx="520.2" cy="323.0" r="0.54" fill-opacity="0.4"/><circle cx="608.5" cy="333.0" r="0.43" fill-opacity="0.3"/><circle cx="498.4" cy="331.8" r="0.51" fill-opacity="0.4"/><circle cx="519.8" cy="355.1" r="0.57" fill-opacity="0.3"/><circle cx="540.9" cy="370.1" r="0.42" fill-opacity="0.3"/><circle cx="577.1" cy="383.5" r="0.57" fill-opacity="0.3"/><circle cx="566.8" cy="345.9" r="0.51" fill-opacity="0.2"/><circle cx="580.6" cy="363.1" r="0.46" fill-opacity="0.4"/><circle cx="551.9" cy="353.9" r="0.52" fill-opacity="0.2"/><circle cx="496.1" cy="342.3" r="0.42" fill-opacity="0.2"/><circle cx="514.8" cy="358.3" r="0.41" fill-opacity="0.3"/><circle cx="533.8" cy="364.9" r="0.58" fill-opacity="0.4"/><circle cx="509.6" cy="346.2" r="0.56" fill-opacity="0.4"/><circle cx="565.0" cy="325.2" r="0.56" fill-opacity="0.4"/><circle cx="590.8" cy="309.0" r="0.55" fill-opacity="0.4"/><circle cx="541.1" cy="342.6" r="0.49" fill-opacity="0.4"/><circle cx="509.8" cy="314.1" r="0.58" fill-opacity="0.4"/><circle cx="594.0" cy="318.7" r="0.47" fill-opacity="0.3"/><circle cx="562.6" cy="385.9" r="0.52" fill-opacity="0.3"/><circle cx="561.1" cy="329.6" r="0.55" fill-opacity="0.3"/><circle cx="534.9" cy="308.8" r="0.48" fill-opacity="0.3"/><circle cx="498.2" cy="325.2" r="0.57" fill-opacity="0.4"/><circle cx="550.3" cy="328.5" r="0.59" fill-opacity="0.3"/><circle cx="560.2" cy="360.0" r="0.53" fill-opacity="0.3"/><circle cx="497.9" cy="338.0" r="0.51" fill-opacity="0.2"/><circle cx="513.0" cy="345.7" r="0.51" fill-opacity="0.4"/><circle cx="514.1" cy="325.5" r="0.48" fill-opacity="0.4"/><circle cx="534.3" cy="314.3" r="0.50" fill-opacity="0.4"/><circle cx="494.1" cy="312.1" r="0.55" fill-opacity="0.3"/><circle cx="531.7" cy="313.1" r="0.44" fill-opacity="0.3"/><circle cx="544.2" cy="342.7" r="0.54" fill-opacity="0.2"/><circle cx="492.6" cy="314.8" r="0.49" fill-opacity="0.3"/><circle cx="576.1" cy="382.4" r="0.48" fill-opacity="0.2"/><circle cx="591.1" cy="344.4" r="0.54" fill-opacity="0.3"/><circle cx="597.3" cy="370.8" r="0.54" fill-opacity="0.2"/><circle cx="546.7" cy="327.7" r="0.51" fill-opacity="0.4"/><circle cx="516.5" cy="348.9" r="0.56" fill-opacity="0.3"/><circle cx="592.8" cy="347.4" r="0.51" fill-opacity="0.3"/><circle cx="611.4" cy="329.8" r="0.44" fill-opacity="0.2"/><circle cx="566.0" cy="381.6" r="0.44" fill-opacity="0.2"/><circle cx="572.7" cy="346.5" r="0.57" fill-opacity="0.4"/><circle cx="539.3" cy="341.9" r="0.46" fill-opacity="0.2"/><circle cx="539.0" cy="383.2" r="0.49" fill-opacity="0.3"/><circle cx="584.0" cy="330.6" r="0.60" fill-opacity="0.4"/><circle cx="577.1" cy="305.8" r="0.58" fill-opacity="0.3"/><circle cx="573.5" cy="340.6" r="0.55" fill-opacity="0.4"/><circle cx="537.1" cy="359.9" r="0.44" fill-opacity="0.2"/><circle cx="559.9" cy="384.7" r="0.41" fill-opacity="0.2"/><circle cx="530.5" cy="325.5" r="0.60" fill-opacity="0.3"/><circle cx="593.1" cy="361.0" r="0.47" fill-opacity="0.2"/><circle cx="520.4" cy="378.9" r="0.53" fill-opacity="0.2"/><circle cx="555.2" cy="328.2" r="0.53" fill-opacity="0.3"/><circle cx="588.2" cy="331.2" r="0.50" fill-opacity="0.2"/><circle cx="604.1" cy="348.1" r="0.55" fill-opacity="0.2"/><circle cx="600.6" cy="331.6" r="0.58" fill-opacity="0.4"/><circle cx="570.6" cy="330.1" r="0.40" fill-opacity="0.3"/><circle cx="584.0" cy="305.4" r="0.41" fill-opacity="0.4"/><circle cx="593.3" cy="329.4" r="0.43" fill-opacity="0.4"/><circle cx="567.1" cy="306.3" r="0.54" fill-opacity="0.4"/><circle cx="556.4" cy="356.0" r="0.47" fill-opacity="0.3"/><circle cx="583.1" cy="361.6" r="0.47" fill-opacity="0.4"/><circle cx="528.3" cy="380.6" r="0.43" fill-opacity="0.3"/><circle cx="546.8" cy="356.8" r="0.45" fill-opacity="0.4"/><circle cx="603.9" cy="357.9" r="0.51" fill-opacity="0.2"/><circle cx="558.1" cy="386.4" r="0.55" fill-opacity="0.2"/><circle cx="601.9" cy="333.5" r="0.50" fill-opacity="0.3"/><circle cx="580.0" cy="349.6" r="0.57" fill-opacity="0.4"/><circle cx="561.7" cy="380.3" r="0.57" fill-opacity="0.4"/><circle cx="608.7" cy="323.0" r="0.48" fill-opacity="0.4"/><circle cx="610.9" cy="346.1" r="0.55" fill-opacity="0.3"/><circle cx="582.8" cy="372.2" r="0.52" fill-opacity="0.3"/><circle cx="552.8" cy="368.2" r="0.42" fill-opacity="0.3"/><circle cx="557.9" cy="340.6" r="0.57" fill-opacity="0.4"/><circle cx="537.9" cy="361.4" r="0.59" fill-opacity="0.4"/><circle cx="514.8" cy="324.1" r="0.43" fill-opacity="0.3"/><circle cx="530.2" cy="326.6" r="0.47" fill-opacity="0.4"/><circle cx="543.4" cy="350.1" r="0.57" fill-opacity="0.3"/><circle cx="496.9" cy="357.6" r="0.57" fill-opacity="0.2"/><circle cx="535.6" cy="318.5" r="0.55" fill-opacity="0.2"/><circle cx="513.7" cy="309.2" r="0.53" fill-opacity="0.3"/><circle cx="563.2" cy="323.7" r="0.58" fill-opacity="0.2"/><circle cx="505.4" cy="326.3" r="0.41" fill-opacity="0.4"/><circle cx="552.0" cy="335.4" r="0.42" fill-opacity="0.4"/><circle cx="555.6" cy="327.0" r="0.57" fill-opacity="0.2"/><circle cx="585.5" cy="361.1" r="0.43" fill-opacity="0.4"/></g><ellipse cx="529.6" cy="276" rx="23.6" ry="16.8" fill="#fff" stroke="#1e1e1e" stroke-width="1.1" /><ellipse cx="580.8" cy="275.3" rx="22.0" ry="16.4" fill="#fff" stroke="#1e1e1e" stroke-width="1.1" /><path d="M511.9,264 L511.9,270 A17.9,12.4 0 0 0 547.6999999999999,270 L547.6999999999999,264 Z" fill="#fff" stroke="#1e1e1e" stroke-width="1.1"/><ellipse cx="529.8" cy="264" rx="17.9" ry="12.4" fill="#fff" stroke="#1e1e1e" stroke-width="1.1" /><ellipse cx="528.6" cy="263.2" rx="5.8" ry="3.5" fill="#fff" stroke="#1e1e1e" stroke-width="0.9900000000000001" /><ellipse cx="528.6" cy="263.2" rx="3.3" ry="2.0" fill="#fff" stroke="#1e1e1e" stroke-width="0.9900000000000001" /><path d="M565.9,261.1 L565.9,268.6 A16.5,10.1 0 0 0 598.9,268.6 L598.9,261.1 Z" fill="#fff" stroke="#1e1e1e" stroke-width="1.1"/><ellipse cx="582.4" cy="261.1" rx="16.5" ry="10.1" fill="#fff" stroke="#1e1e1e" stroke-width="1.1" /><ellipse cx="583.5" cy="260.1" rx="5.4" ry="3.9" fill="#fff" stroke="#1e1e1e" stroke-width="0.9900000000000001" /><ellipse cx="583.5" cy="260.1" rx="2.9" ry="2.0" fill="#fff" stroke="#1e1e1e" stroke-width="0.9900000000000001" /><circle cx="522.5" cy="288.9" r="6.3" fill="none" stroke="#222" stroke-width="1"/><circle cx="538.6" cy="285" r="6.6" fill="none" stroke="#222" stroke-width="1"/><circle cx="567.2" cy="281.2" r="6.3" fill="none" stroke="#222" stroke-width="1"/><circle cx="579.9" cy="285.5" r="6.3" fill="none" stroke="#222" stroke-width="1"/><ellipse cx="554" cy="253.3" rx="1.8" ry="1.4" fill="#fff" stroke="#1e1e1e" stroke-width="1.1" /><path d="M483.6,141.6 C484.1,141 485.48,138.73 486.6,138 C487.72,137.27 488.55,137.32 490.3,137.2 C492.05,137.08 495.32,137.33 497.1,137.3 C498.88,137.27 499.77,137.28 501,137 C502.23,136.72 503.17,135.93 504.5,135.6 C505.83,135.27 507.53,135.12 509,135 C510.47,134.88 511.6,134.63 513.3,134.9 C515,135.17 517,135.32 519.2,136.6 C521.4,137.88 524.43,140.37 526.5,142.6 C528.57,144.83 529.9,147.27 531.6,150 C533.3,152.73 535.3,156.4 536.7,159 C538.1,161.6 539.03,163.45 540,165.6 C540.97,167.75 541.5,168.52 542.5,171.9 C543.5,175.28 545.18,182.05 546,185.9 C546.82,189.75 546.97,191.82 547.4,195 C547.83,198.18 548.1,200.17 548.6,205 C549.1,209.83 549.87,218.17 550.4,224 C550.93,229.83 551.38,235.47 551.8,240 C552.22,244.53 552.72,249.33 552.9,251.2" fill="none" stroke="#222" stroke-width="1"/><path d="M479.79999999999995,143.4 C479.59999999999997,139.8 485.2,139.8 485.0,143.4 C484.59999999999997,147.4 484.0,151.8 483.8,155.8 C483.6,157.4 481.6,157.4 481.40000000000003,155.8 C481.20000000000005,151.8 480.2,147.4 479.79999999999995,143.4 Z" fill="#fff" stroke="#333" stroke-width="0.8"/><line x1="482.6" y1="156.8" x2="475.9" y2="186.4" stroke="#333" stroke-width="0.7"/><line x1="475.9" y1="186.4" x2="472.4" y2="192.4" stroke="#333" stroke-width="4" stroke-linecap="round"/><line x1="475.9" y1="186.4" x2="472.4" y2="192.4" stroke="#fff" stroke-width="2.3" stroke-linecap="round"/><path d="M471.4,192.4 L463,205.6 Q467.7,209.2 472.4,208.4 L473.4,192.9 Z" fill="#b4b4b4" stroke="#888" stroke-width="0.5"/><path d="M472.4,192.70000000000002 L464.6,207.6 M472.4,192.70000000000002 L466.1,208.0 M472.4,192.70000000000002 L467.7,208.5 M472.4,192.70000000000002 L469.3,209.0 M472.4,192.70000000000002 L470.8,209.4" stroke="#666" stroke-width="0.5" fill="none"/><g stroke="#4e5a74" stroke-width="1" fill="none"><path d="M481.9,131.6 C483.3,131.03 487.28,129.2 490.3,128.2 C493.32,127.2 496.9,126.2 500,125.6 C503.1,125 506,124.63 508.9,124.6 C511.8,124.57 514.55,124.73 517.4,125.4 C520.25,126.07 522.75,126.9 526,128.6 C529.25,130.3 534.07,133.2 536.9,135.6 C539.73,138 541.05,140.3 543,143 C544.95,145.7 547.07,149.13 548.6,151.8 C550.13,154.47 551.2,156.72 552.2,159 C553.2,161.28 553.8,162.67 554.6,165.5 C555.4,168.33 556.28,172.25 557,176 C557.72,179.75 558.33,183.63 558.9,188 C559.47,192.37 560,197.53 560.4,202.2 C560.8,206.87 561.07,211.47 561.3,216 C561.53,220.53 561.65,223.57 561.8,229.4 C561.95,235.23 562.13,247.4 562.2,251"/><line x1="479.8" y1="129.2" x2="482.6" y2="133.8"/><line x1="560.2" y1="251.3" x2="564.8" y2="251.3"/></g><text x="561.2" y="166.3" font-size="15.5" fill="#2b4370" stroke="#2b4370" stroke-width="0.3">16Inch</text><rect x="561.47" y="163.47" width="3.36" height="3.63" fill="#fff"/><rect x="566.64" y="163.47" width="3.21" height="3.63" fill="#fff"/><g stroke="#6f7890" stroke-width="1.1" fill="none"><line x1="445.2" y1="250" x2="445.2" y2="297.5"/><line x1="445.2" y1="370.5" x2="445.2" y2="414"/><line x1="440" y1="250" x2="450.2" y2="250"/><line x1="440.2" y1="414" x2="449.8" y2="414"/></g><g transform="translate(450.6,365.4) rotate(-90)"><text x="0" y="0" font-size="15.2" fill="#2b4370" stroke="#2b4370" stroke-width="0.3">13.6Inch</text><rect x="0.26" y="-2.78" width="3.29" height="3.58" fill="#fff"/><rect x="5.34" y="-2.78" width="3.14" height="3.58" fill="#fff"/></g><g stroke="#6f7890" stroke-width="1.1" fill="none"><line x1="463.8" y1="442.2" x2="645.9" y2="442.2"/><line x1="463.8" y1="437.4" x2="463.8" y2="447.2"/><line x1="645.9" y1="437.4" x2="645.9" y2="447.2"/></g><text x="529.2" y="463.3" font-size="15.6" fill="#2b4370" stroke="#2b4370" stroke-width="0.3">12Inch</text><rect x="529.47" y="460.45" width="3.38" height="3.65" fill="#fff"/><rect x="534.68" y="460.45" width="3.23" height="3.65" fill="#fff"/>
</svg>
</body></html>
